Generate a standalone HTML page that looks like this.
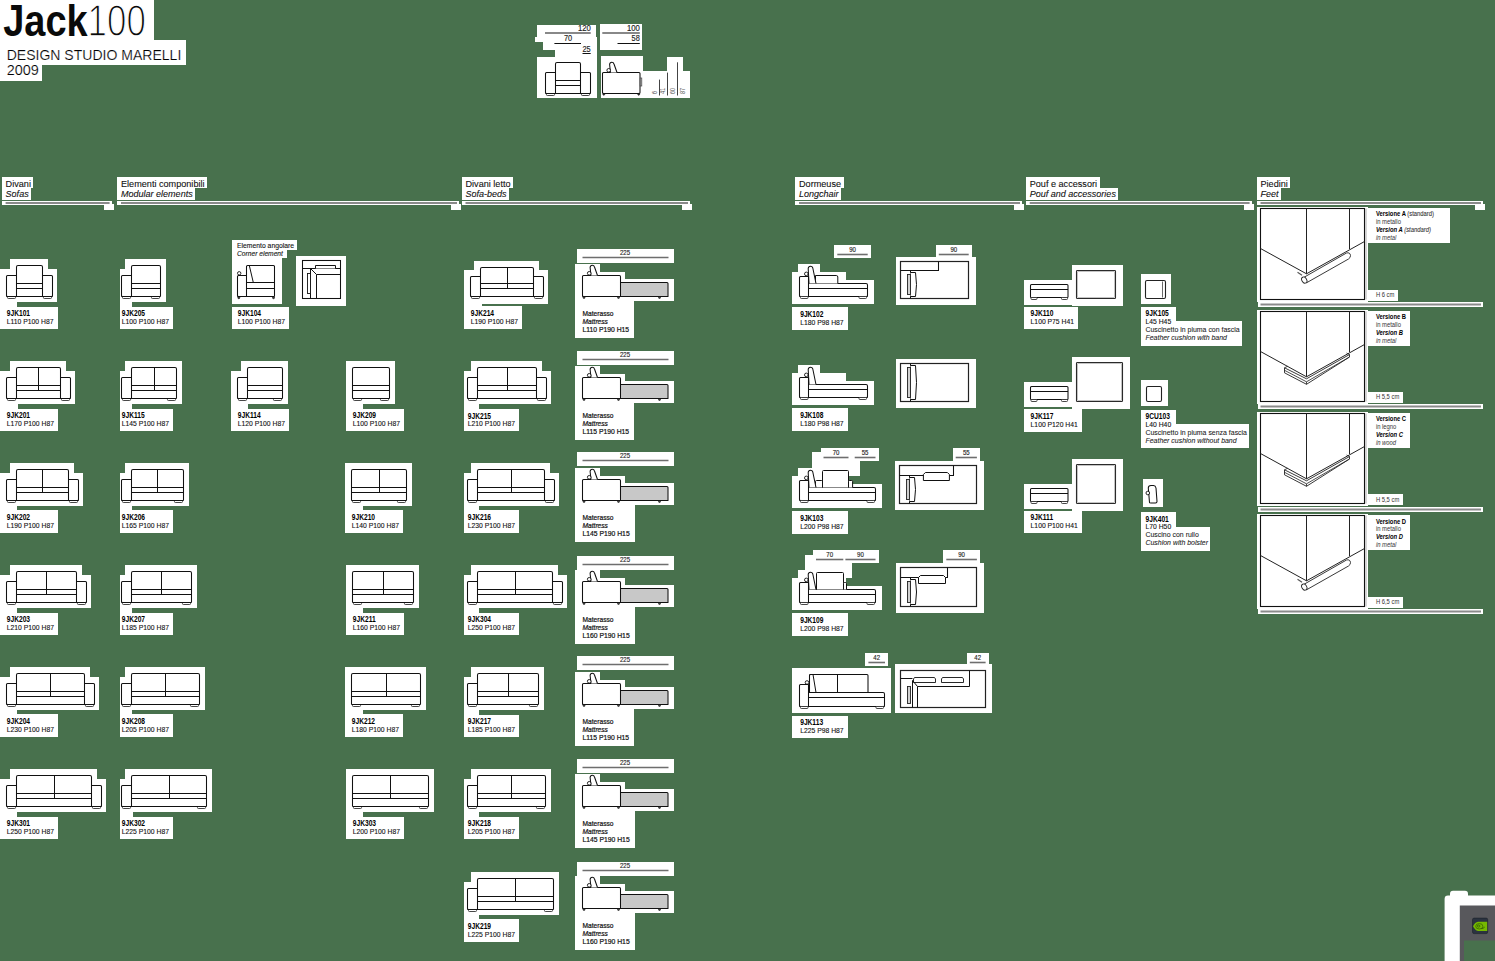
<!DOCTYPE html>
<html><head><meta charset="utf-8"><title>Jack100</title>
<style>
html,body{margin:0;padding:0;background:#48714d;width:1495px;height:961px;overflow:hidden;}
svg{position:absolute;left:0;top:0;display:block;}
text{font-family:"Liberation Sans",sans-serif;}
</style></head><body>
<svg width="1495" height="961" viewBox="0 0 1495 961">
<g shape-rendering="crispEdges"><rect x="0.00" y="0.00" width="154.00" height="41.00" fill="#fff"/><rect x="0.00" y="40.00" width="186.00" height="25.00" fill="#fff"/><rect x="0.00" y="64.00" width="42.00" height="17.00" fill="#fff"/><rect x="537.00" y="25.00" width="59.00" height="12.00" fill="#fff"/><rect x="535.00" y="37.00" width="58.00" height="5.00" fill="#fff"/><rect x="543.00" y="37.00" width="54.00" height="13.00" fill="#fff"/><rect x="555.00" y="45.00" width="42.00" height="13.00" fill="#fff"/><rect x="537.00" y="57.00" width="60.00" height="41.00" fill="#fff"/><rect x="600.00" y="24.00" width="42.00" height="26.00" fill="#fff"/><rect x="617.00" y="44.00" width="25.00" height="6.00" fill="#fff"/><rect x="601.00" y="56.00" width="42.00" height="42.00" fill="#fff"/><rect x="643.00" y="71.00" width="47.00" height="27.00" fill="#fff"/><rect x="667.00" y="57.00" width="16.00" height="15.00" fill="#fff"/><rect x="1.60" y="177.00" width="31.81" height="11.00" fill="#fff"/><rect x="1.60" y="188.00" width="29.56" height="11.50" fill="#fff"/><rect x="1.60" y="201.00" width="110.00" height="4.00" fill="#fff"/><rect x="103.60" y="204.00" width="10.00" height="6.00" fill="#fff"/><rect x="117.00" y="177.00" width="90.03" height="11.00" fill="#fff"/><rect x="117.00" y="188.00" width="78.16" height="11.50" fill="#fff"/><rect x="117.00" y="201.00" width="342.00" height="4.00" fill="#fff"/><rect x="451.00" y="204.00" width="10.00" height="6.00" fill="#fff"/><rect x="461.50" y="177.00" width="51.56" height="11.00" fill="#fff"/><rect x="461.50" y="188.00" width="47.60" height="11.50" fill="#fff"/><rect x="461.50" y="201.00" width="228.50" height="4.00" fill="#fff"/><rect x="682.00" y="204.00" width="10.00" height="6.00" fill="#fff"/><rect x="795.00" y="177.00" width="48.51" height="11.00" fill="#fff"/><rect x="795.00" y="188.00" width="46.10" height="11.50" fill="#fff"/><rect x="795.00" y="201.00" width="227.00" height="4.00" fill="#fff"/><rect x="1014.00" y="204.00" width="10.00" height="6.00" fill="#fff"/><rect x="1025.70" y="177.00" width="73.83" height="11.00" fill="#fff"/><rect x="1025.70" y="188.00" width="92.70" height="11.50" fill="#fff"/><rect x="1025.70" y="201.00" width="225.90" height="4.00" fill="#fff"/><rect x="1243.60" y="204.00" width="10.00" height="6.00" fill="#fff"/><rect x="1256.50" y="177.00" width="33.84" height="11.00" fill="#fff"/><rect x="1256.50" y="188.00" width="24.54" height="11.50" fill="#fff"/><rect x="1256.50" y="201.00" width="226.50" height="4.00" fill="#fff"/><rect x="1475.00" y="204.00" width="10.00" height="6.00" fill="#fff"/><rect x="9.50" y="258.80" width="38.00" height="43.00" fill="#fff"/><rect x="-0.10" y="268.50" width="56.60" height="33.30" fill="#fff"/><rect x="-0.10" y="299.30" width="17.50" height="9.00" fill="#fff"/><rect x="-0.20" y="306.60" width="58.16" height="22.40" fill="#fff"/><rect x="9.50" y="360.90" width="56.00" height="43.00" fill="#fff"/><rect x="0.10" y="370.50" width="75.10" height="33.40" fill="#fff"/><rect x="0.10" y="401.40" width="17.50" height="9.00" fill="#fff"/><rect x="-0.20" y="408.70" width="58.67" height="22.40" fill="#fff"/><rect x="9.50" y="462.50" width="64.00" height="43.00" fill="#fff"/><rect x="-0.10" y="472.50" width="83.40" height="33.00" fill="#fff"/><rect x="-0.10" y="503.00" width="17.50" height="9.00" fill="#fff"/><rect x="-0.20" y="510.30" width="58.67" height="22.40" fill="#fff"/><rect x="9.50" y="564.70" width="72.00" height="43.00" fill="#fff"/><rect x="-0.10" y="574.50" width="91.10" height="33.20" fill="#fff"/><rect x="-0.10" y="605.20" width="17.50" height="9.00" fill="#fff"/><rect x="-0.20" y="612.50" width="58.67" height="22.40" fill="#fff"/><rect x="9.50" y="666.50" width="80.00" height="43.00" fill="#fff"/><rect x="-0.10" y="676.50" width="98.60" height="33.00" fill="#fff"/><rect x="-0.10" y="707.00" width="17.50" height="9.00" fill="#fff"/><rect x="-0.20" y="714.30" width="58.67" height="22.40" fill="#fff"/><rect x="9.50" y="769.00" width="87.00" height="43.00" fill="#fff"/><rect x="-0.10" y="778.50" width="105.60" height="33.50" fill="#fff"/><rect x="-0.10" y="809.50" width="17.50" height="9.00" fill="#fff"/><rect x="-0.20" y="816.80" width="58.67" height="22.40" fill="#fff"/><rect x="124.50" y="258.80" width="41.00" height="43.00" fill="#fff"/><rect x="120.00" y="268.50" width="44.90" height="33.30" fill="#fff"/><rect x="120.00" y="299.30" width="12.30" height="9.00" fill="#fff"/><rect x="120.00" y="306.60" width="53.47" height="22.40" fill="#fff"/><rect x="124.50" y="360.90" width="57.00" height="43.00" fill="#fff"/><rect x="120.00" y="370.50" width="61.20" height="33.40" fill="#fff"/><rect x="120.00" y="401.40" width="12.30" height="9.00" fill="#fff"/><rect x="120.00" y="408.70" width="53.47" height="22.40" fill="#fff"/><rect x="124.50" y="462.50" width="64.00" height="43.00" fill="#fff"/><rect x="120.00" y="472.50" width="68.30" height="33.00" fill="#fff"/><rect x="120.00" y="503.00" width="12.30" height="9.00" fill="#fff"/><rect x="120.00" y="510.30" width="53.47" height="22.40" fill="#fff"/><rect x="124.50" y="564.70" width="72.00" height="43.00" fill="#fff"/><rect x="120.00" y="574.50" width="76.10" height="33.20" fill="#fff"/><rect x="120.00" y="605.20" width="12.30" height="9.00" fill="#fff"/><rect x="120.00" y="612.50" width="53.47" height="22.40" fill="#fff"/><rect x="124.50" y="666.50" width="80.00" height="43.00" fill="#fff"/><rect x="120.00" y="676.50" width="84.10" height="33.00" fill="#fff"/><rect x="120.00" y="707.00" width="12.30" height="9.00" fill="#fff"/><rect x="120.00" y="714.30" width="53.47" height="22.40" fill="#fff"/><rect x="124.50" y="769.00" width="87.00" height="43.00" fill="#fff"/><rect x="120.00" y="778.50" width="91.30" height="33.50" fill="#fff"/><rect x="120.00" y="809.50" width="12.70" height="9.00" fill="#fff"/><rect x="120.00" y="816.80" width="53.47" height="22.40" fill="#fff"/><rect x="240.50" y="360.90" width="47.00" height="43.00" fill="#fff"/><rect x="230.50" y="370.50" width="56.70" height="33.40" fill="#fff"/><rect x="230.50" y="401.40" width="17.50" height="9.00" fill="#fff"/><rect x="230.80" y="408.70" width="58.67" height="22.40" fill="#fff"/><rect x="345.50" y="360.90" width="49.00" height="43.00" fill="#fff"/><rect x="345.50" y="370.50" width="48.80" height="33.40" fill="#fff"/><rect x="345.50" y="401.40" width="17.50" height="9.00" fill="#fff"/><rect x="345.80" y="408.70" width="58.67" height="22.40" fill="#fff"/><rect x="344.50" y="462.50" width="67.00" height="43.00" fill="#fff"/><rect x="345.30" y="472.50" width="65.20" height="33.00" fill="#fff"/><rect x="345.30" y="503.00" width="17.50" height="9.00" fill="#fff"/><rect x="344.80" y="510.30" width="58.67" height="22.40" fill="#fff"/><rect x="345.50" y="564.70" width="73.00" height="43.00" fill="#fff"/><rect x="345.50" y="574.50" width="72.20" height="33.20" fill="#fff"/><rect x="345.50" y="605.20" width="17.50" height="9.00" fill="#fff"/><rect x="345.80" y="612.50" width="58.67" height="22.40" fill="#fff"/><rect x="344.50" y="666.50" width="81.00" height="43.00" fill="#fff"/><rect x="345.30" y="676.50" width="80.10" height="33.00" fill="#fff"/><rect x="345.30" y="707.00" width="17.50" height="9.00" fill="#fff"/><rect x="344.80" y="714.30" width="58.67" height="22.40" fill="#fff"/><rect x="345.50" y="769.00" width="88.00" height="43.00" fill="#fff"/><rect x="345.50" y="778.50" width="87.30" height="33.50" fill="#fff"/><rect x="345.50" y="809.50" width="17.50" height="9.00" fill="#fff"/><rect x="345.80" y="816.80" width="58.67" height="22.40" fill="#fff"/><rect x="232.00" y="240.00" width="64.58" height="10.00" fill="#fff"/><rect x="232.00" y="249.00" width="54.93" height="9.00" fill="#fff"/><rect x="232.00" y="258.00" width="50.00" height="46.00" fill="#fff"/><rect x="232.00" y="306.70" width="57.47" height="22.40" fill="#fff"/><rect x="296.00" y="256.00" width="50.00" height="50.00" fill="#fff"/><rect x="473.50" y="260.80" width="65.00" height="43.00" fill="#fff"/><rect x="464.10" y="269.50" width="83.40" height="34.30" fill="#fff"/><rect x="464.10" y="301.30" width="17.50" height="9.00" fill="#fff"/><rect x="464.00" y="306.10" width="58.47" height="22.40" fill="#fff"/><rect x="577.00" y="248.50" width="97.00" height="14.00" fill="#fff"/><rect x="575.00" y="263.50" width="25.00" height="12.00" fill="#fff"/><rect x="575.00" y="271.50" width="50.00" height="29.00" fill="#fff"/><rect x="618.00" y="278.50" width="56.00" height="22.00" fill="#fff"/><rect x="575.00" y="300.50" width="59.16" height="37.50" fill="#fff"/><rect x="470.50" y="361.20" width="71.00" height="43.00" fill="#fff"/><rect x="464.00" y="370.50" width="87.10" height="33.70" fill="#fff"/><rect x="464.00" y="401.70" width="14.50" height="9.00" fill="#fff"/><rect x="464.00" y="409.00" width="55.47" height="22.40" fill="#fff"/><rect x="577.00" y="350.50" width="97.00" height="14.00" fill="#fff"/><rect x="575.00" y="365.50" width="25.00" height="12.00" fill="#fff"/><rect x="575.00" y="373.50" width="50.00" height="29.00" fill="#fff"/><rect x="618.00" y="380.50" width="56.00" height="22.00" fill="#fff"/><rect x="575.00" y="402.50" width="59.16" height="37.50" fill="#fff"/><rect x="470.50" y="462.50" width="79.00" height="43.00" fill="#fff"/><rect x="464.00" y="472.50" width="95.00" height="33.00" fill="#fff"/><rect x="464.00" y="503.00" width="14.50" height="9.00" fill="#fff"/><rect x="464.00" y="510.30" width="55.47" height="22.40" fill="#fff"/><rect x="577.00" y="451.50" width="97.00" height="14.00" fill="#fff"/><rect x="575.00" y="467.50" width="25.00" height="12.00" fill="#fff"/><rect x="575.00" y="475.50" width="50.00" height="29.00" fill="#fff"/><rect x="618.00" y="482.50" width="56.00" height="22.00" fill="#fff"/><rect x="575.00" y="504.50" width="59.67" height="37.50" fill="#fff"/><rect x="470.50" y="564.70" width="87.00" height="43.00" fill="#fff"/><rect x="464.00" y="574.50" width="102.70" height="33.20" fill="#fff"/><rect x="464.00" y="605.20" width="14.50" height="9.00" fill="#fff"/><rect x="464.00" y="612.50" width="55.47" height="22.40" fill="#fff"/><rect x="577.00" y="555.50" width="97.00" height="14.00" fill="#fff"/><rect x="575.00" y="569.50" width="25.00" height="12.00" fill="#fff"/><rect x="575.00" y="577.50" width="50.00" height="29.00" fill="#fff"/><rect x="618.00" y="584.50" width="56.00" height="22.00" fill="#fff"/><rect x="575.00" y="606.50" width="59.67" height="37.50" fill="#fff"/><rect x="470.50" y="666.70" width="73.00" height="43.00" fill="#fff"/><rect x="464.00" y="676.50" width="78.80" height="33.20" fill="#fff"/><rect x="464.00" y="707.20" width="14.50" height="9.00" fill="#fff"/><rect x="464.00" y="714.50" width="55.47" height="22.40" fill="#fff"/><rect x="577.00" y="655.50" width="97.00" height="14.00" fill="#fff"/><rect x="575.00" y="671.50" width="25.00" height="12.00" fill="#fff"/><rect x="575.00" y="679.50" width="50.00" height="29.00" fill="#fff"/><rect x="618.00" y="686.50" width="56.00" height="22.00" fill="#fff"/><rect x="575.00" y="708.50" width="59.16" height="37.50" fill="#fff"/><rect x="470.50" y="769.10" width="80.00" height="43.00" fill="#fff"/><rect x="464.00" y="778.50" width="85.50" height="33.60" fill="#fff"/><rect x="464.00" y="809.60" width="14.60" height="9.00" fill="#fff"/><rect x="464.00" y="816.90" width="55.47" height="22.40" fill="#fff"/><rect x="577.00" y="758.50" width="97.00" height="14.00" fill="#fff"/><rect x="575.00" y="773.50" width="25.00" height="12.00" fill="#fff"/><rect x="575.00" y="781.50" width="50.00" height="29.00" fill="#fff"/><rect x="618.00" y="788.50" width="56.00" height="22.00" fill="#fff"/><rect x="575.00" y="810.50" width="59.67" height="37.50" fill="#fff"/><rect x="470.50" y="871.50" width="88.00" height="43.00" fill="#fff"/><rect x="464.00" y="881.50" width="93.90" height="33.00" fill="#fff"/><rect x="464.00" y="912.00" width="14.60" height="9.00" fill="#fff"/><rect x="464.00" y="919.30" width="55.47" height="22.40" fill="#fff"/><rect x="577.00" y="861.50" width="97.00" height="14.00" fill="#fff"/><rect x="575.00" y="875.50" width="25.00" height="12.00" fill="#fff"/><rect x="575.00" y="883.50" width="50.00" height="29.00" fill="#fff"/><rect x="618.00" y="890.50" width="56.00" height="22.00" fill="#fff"/><rect x="575.00" y="912.50" width="59.67" height="37.50" fill="#fff"/><rect x="798.00" y="263.50" width="22.00" height="20.00" fill="#fff"/><rect x="792.00" y="271.50" width="54.00" height="12.00" fill="#fff"/><rect x="792.00" y="279.50" width="81.50" height="24.00" fill="#fff"/><rect x="792.00" y="307.30" width="56.09" height="22.40" fill="#fff"/><rect x="834.30" y="244.50" width="36.40" height="13.00" fill="#fff"/><rect x="895.50" y="256.50" width="80.00" height="48.00" fill="#fff"/><rect x="935.80" y="244.50" width="35.90" height="13.00" fill="#fff"/><rect x="798.00" y="364.50" width="22.00" height="20.00" fill="#fff"/><rect x="792.00" y="372.50" width="54.00" height="12.00" fill="#fff"/><rect x="792.00" y="380.50" width="81.50" height="24.00" fill="#fff"/><rect x="792.00" y="408.30" width="56.09" height="22.40" fill="#fff"/><rect x="895.50" y="358.50" width="80.00" height="49.00" fill="#fff"/><rect x="812.00" y="452.00" width="48.00" height="24.00" fill="#fff"/><rect x="798.00" y="467.50" width="22.00" height="20.00" fill="#fff"/><rect x="792.00" y="475.50" width="54.00" height="12.00" fill="#fff"/><rect x="792.00" y="483.50" width="89.50" height="24.00" fill="#fff"/><rect x="792.00" y="511.30" width="56.09" height="22.40" fill="#fff"/><rect x="820.50" y="447.50" width="31.00" height="13.00" fill="#fff"/><rect x="851.70" y="447.50" width="26.80" height="13.00" fill="#fff"/><rect x="894.50" y="460.50" width="89.00" height="49.00" fill="#fff"/><rect x="952.70" y="447.50" width="27.20" height="13.00" fill="#fff"/><rect x="805.00" y="555.00" width="47.00" height="23.00" fill="#fff"/><rect x="798.00" y="569.50" width="22.00" height="20.00" fill="#fff"/><rect x="792.00" y="577.50" width="54.00" height="12.00" fill="#fff"/><rect x="792.00" y="585.50" width="89.50" height="24.00" fill="#fff"/><rect x="792.00" y="613.30" width="56.09" height="22.40" fill="#fff"/><rect x="813.00" y="549.50" width="33.30" height="13.00" fill="#fff"/><rect x="842.40" y="549.50" width="36.10" height="13.00" fill="#fff"/><rect x="895.50" y="562.50" width="88.00" height="50.00" fill="#fff"/><rect x="943.30" y="549.50" width="36.60" height="13.00" fill="#fff"/><rect x="792.00" y="668.00" width="99.00" height="45.00" fill="#fff"/><rect x="792.00" y="715.50" width="56.09" height="22.40" fill="#fff"/><rect x="865.40" y="652.50" width="22.60" height="13.00" fill="#fff"/><rect x="895.00" y="664.00" width="97.00" height="49.00" fill="#fff"/><rect x="966.80" y="652.50" width="21.80" height="13.00" fill="#fff"/><rect x="1024.00" y="279.50" width="50.00" height="25.00" fill="#fff"/><rect x="1071.50" y="264.50" width="51.00" height="41.00" fill="#fff"/><rect x="1024.00" y="306.90" width="54.49" height="22.40" fill="#fff"/><rect x="1024.00" y="381.50" width="50.00" height="25.00" fill="#fff"/><rect x="1071.50" y="356.50" width="58.00" height="52.00" fill="#fff"/><rect x="1024.00" y="409.10" width="58.27" height="22.40" fill="#fff"/><rect x="1024.00" y="483.50" width="50.00" height="25.00" fill="#fff"/><rect x="1071.50" y="458.50" width="51.00" height="52.00" fill="#fff"/><rect x="1024.00" y="510.70" width="58.27" height="22.40" fill="#fff"/><rect x="1141.00" y="274.00" width="30.00" height="30.00" fill="#fff"/><rect x="1141.00" y="306.90" width="34.66" height="19.50" fill="#fff"/><rect x="1141.00" y="321.40" width="100.65" height="24.20" fill="#fff"/><rect x="1141.00" y="380.00" width="27.00" height="26.00" fill="#fff"/><rect x="1141.00" y="409.50" width="34.66" height="19.50" fill="#fff"/><rect x="1141.00" y="424.00" width="107.98" height="24.20" fill="#fff"/><rect x="1143.00" y="479.00" width="20.00" height="28.00" fill="#fff"/><rect x="1141.00" y="512.00" width="34.66" height="19.50" fill="#fff"/><rect x="1141.00" y="526.50" width="69.01" height="24.20" fill="#fff"/><rect x="1257.00" y="206.50" width="110.50" height="95.00" fill="#fff"/><rect x="1368.00" y="207.50" width="82.00" height="35.10" fill="#fff"/><rect x="1368.00" y="289.50" width="30.40" height="11.00" fill="#fff"/><rect x="1258.00" y="302.00" width="225.00" height="5.00" fill="#fff"/><rect x="1257.00" y="309.50" width="110.50" height="94.00" fill="#fff"/><rect x="1368.00" y="310.50" width="42.09" height="35.40" fill="#fff"/><rect x="1368.00" y="391.50" width="35.27" height="11.00" fill="#fff"/><rect x="1258.00" y="404.00" width="225.00" height="5.00" fill="#fff"/><rect x="1257.00" y="411.50" width="110.50" height="94.00" fill="#fff"/><rect x="1368.00" y="412.50" width="42.09" height="35.20" fill="#fff"/><rect x="1368.00" y="494.00" width="35.27" height="10.50" fill="#fff"/><rect x="1258.00" y="507.00" width="225.00" height="5.00" fill="#fff"/><rect x="1257.00" y="513.50" width="110.50" height="95.00" fill="#fff"/><rect x="1368.00" y="514.50" width="42.09" height="35.50" fill="#fff"/><rect x="1368.00" y="596.50" width="35.27" height="11.00" fill="#fff"/><rect x="1258.00" y="609.00" width="225.00" height="5.00" fill="#fff"/></g>
<g><text x="3.30" y="35.90" font-size="44" font-weight="bold" font-style="normal" fill="#0a0a0a" textLength="84.28" lengthAdjust="spacingAndGlyphs">Jack</text><text x="87.6" y="35.9" font-size="44" fill="#0a0a0a" stroke="#fff" stroke-width="1.4" textLength="58.22" lengthAdjust="spacingAndGlyphs">100</text><text x="6.7" y="59.5" font-size="15.2" fill="#000" stroke="#fff" stroke-width="0.2" textLength="174.6" lengthAdjust="spacingAndGlyphs">DESIGN STUDIO MARELLI</text><text x="6.7" y="75.2" font-size="15.2" fill="#000" stroke="#fff" stroke-width="0.2" textLength="32.1" lengthAdjust="spacingAndGlyphs">2009</text><line x1="545.00" y1="33.00" x2="590.70" y2="33.00" stroke="#888" stroke-width="1.8"/><text x="577.99" y="30.80" font-size="8.6" font-weight="normal" font-style="normal" fill="#222" stroke="#222" stroke-width="0.15" textLength="12.91" lengthAdjust="spacingAndGlyphs">120</text><text x="563.89" y="41.00" font-size="8.4" font-weight="normal" font-style="normal" fill="#222" stroke="#222" stroke-width="0.15" textLength="8.22" lengthAdjust="spacingAndGlyphs">70</text><line x1="554.40" y1="43.50" x2="581.00" y2="43.50" stroke="#111" stroke-width="1.0"/><text x="582.48" y="51.80" font-size="8.4" font-weight="normal" font-style="normal" fill="#222" stroke="#222" stroke-width="0.15" textLength="8.22" lengthAdjust="spacingAndGlyphs">25</text><line x1="582.50" y1="53.50" x2="590.70" y2="53.50" stroke="#111" stroke-width="1.0"/><rect x="546.50" y="93.50" width="8.00" height="2.00" rx="0.8" fill="#fff" stroke="#333" stroke-width="0.9"/><rect x="581.50" y="93.50" width="8.00" height="2.00" rx="0.8" fill="#fff" stroke="#333" stroke-width="0.9"/><path d="M555.5,72.5 L546.5,72.5 Q545.5,72.5 545.5,73.5 L545.5,92.5 Q545.5,93.5 546.5,93.5 L555.5,93.5" fill="#fff" stroke="#111" stroke-width="1.05" stroke-linejoin="round" /><path d="M580.5,72.5 L589.5,72.5 Q590.5,72.5 590.5,73.5 L590.5,92.5 Q590.5,93.5 589.5,93.5 L580.5,93.5" fill="#fff" stroke="#111" stroke-width="1.05" stroke-linejoin="round" /><path d="M555.5,93.5 L555.5,64.0 Q555.5,62.5 557.0,62.5 L579.0,62.5 Q580.5,62.5 580.5,64.0 L580.5,93.5" fill="#fff" stroke="#111" stroke-width="1.05" stroke-linejoin="round" /><line x1="555.50" y1="80.50" x2="580.50" y2="80.50" stroke="#111" stroke-width="1.0"/><line x1="555.50" y1="85.50" x2="580.50" y2="85.50" stroke="#111" stroke-width="1.05"/><line x1="545.50" y1="93.50" x2="590.50" y2="93.50" stroke="#111" stroke-width="1.1"/><line x1="602.30" y1="33.00" x2="639.80" y2="33.00" stroke="#888" stroke-width="1.8"/><text x="626.89" y="30.80" font-size="8.6" font-weight="normal" font-style="normal" fill="#222" stroke="#222" stroke-width="0.15" textLength="12.91" lengthAdjust="spacingAndGlyphs">100</text><text x="631.58" y="41.00" font-size="8.4" font-weight="normal" font-style="normal" fill="#222" stroke="#222" stroke-width="0.15" textLength="8.22" lengthAdjust="spacingAndGlyphs">58</text><line x1="617.50" y1="43.50" x2="639.80" y2="43.50" stroke="#111" stroke-width="1.0"/><path d="M602.5,73.5 Q602.5,72.5 603.5,72.5 L639,72.5 Q640,72.5 640,73.5 L640,92.5 Q640,93.5 639,93.5 L603.5,93.5 Q602.5,93.5 602.5,92.5 Z" fill="#fff" stroke="#111" stroke-width="1.05" stroke-linejoin="round" /><path d="M610.5,72.5 L609.6,64.5 Q609.8,62.3 611.8,62.3 Q613.5,62.3 614,64 L617,72.5" fill="#fff" stroke="#111" stroke-width="1.05" stroke-linejoin="round" /><circle cx="608.70" cy="70.30" r="1.8" fill="#fff" stroke="#111" stroke-width="0.9"/><rect x="640.20" y="78.00" width="1.60" height="8.00" rx="0.0" fill="#bbb" stroke="#444" stroke-width="0.7"/><circle cx="603.80" cy="94.30" r="0.9" fill="#333" stroke="#111" stroke-width="0.7"/><circle cx="638.70" cy="94.30" r="0.9" fill="#333" stroke="#111" stroke-width="0.7"/><line x1="659.50" y1="79.60" x2="659.50" y2="95.50" stroke="#444" stroke-width="1.0"/><line x1="667.50" y1="72.60" x2="667.50" y2="95.50" stroke="#444" stroke-width="1.0"/><line x1="677.50" y1="62.30" x2="677.50" y2="95.50" stroke="#444" stroke-width="1.0"/><text x="0" y="0" font-size="6.5" fill="#555" transform="translate(656.5,94) rotate(-90)" textLength="3.07" lengthAdjust="spacingAndGlyphs">6</text><text x="0" y="0" font-size="6.5" fill="#555" transform="translate(665.3,94) rotate(-90)" textLength="6.15" lengthAdjust="spacingAndGlyphs">41</text><text x="0" y="0" font-size="6.5" fill="#555" transform="translate(674.8,94) rotate(-90)" textLength="6.15" lengthAdjust="spacingAndGlyphs">60</text><text x="0" y="0" font-size="6.5" fill="#555" transform="translate(684.5,94) rotate(-90)" textLength="6.15" lengthAdjust="spacingAndGlyphs">87</text><text x="5.60" y="186.50" font-size="9.2" font-weight="normal" font-style="normal" fill="#111" stroke="#111" stroke-width="0.1" textLength="25.31" lengthAdjust="spacingAndGlyphs">Divani</text><text x="5.60" y="196.50" font-size="9.2" font-weight="normal" font-style="italic" fill="#111" stroke="#111" stroke-width="0.1" textLength="23.06" lengthAdjust="spacingAndGlyphs">Sofas</text><line x1="5.60" y1="203.00" x2="109.60" y2="203.00" stroke="#8a8a8a" stroke-width="2.0"/><text x="121.00" y="186.50" font-size="9.2" font-weight="normal" font-style="normal" fill="#111" stroke="#111" stroke-width="0.1" textLength="83.53" lengthAdjust="spacingAndGlyphs">Elementi componibili</text><text x="121.00" y="196.50" font-size="9.2" font-weight="normal" font-style="italic" fill="#111" stroke="#111" stroke-width="0.1" textLength="71.66" lengthAdjust="spacingAndGlyphs">Modular elements</text><line x1="121.00" y1="203.00" x2="457.00" y2="203.00" stroke="#8a8a8a" stroke-width="2.0"/><text x="465.50" y="186.50" font-size="9.2" font-weight="normal" font-style="normal" fill="#111" stroke="#111" stroke-width="0.1" textLength="45.06" lengthAdjust="spacingAndGlyphs">Divani letto</text><text x="465.50" y="196.50" font-size="9.2" font-weight="normal" font-style="italic" fill="#111" stroke="#111" stroke-width="0.1" textLength="41.10" lengthAdjust="spacingAndGlyphs">Sofa-beds</text><line x1="465.50" y1="203.00" x2="688.00" y2="203.00" stroke="#8a8a8a" stroke-width="2.0"/><text x="799.00" y="186.50" font-size="9.2" font-weight="normal" font-style="normal" fill="#111" stroke="#111" stroke-width="0.1" textLength="42.01" lengthAdjust="spacingAndGlyphs">Dormeuse</text><text x="799.00" y="196.50" font-size="9.2" font-weight="normal" font-style="italic" fill="#111" stroke="#111" stroke-width="0.1" textLength="39.60" lengthAdjust="spacingAndGlyphs">Longchair</text><line x1="799.00" y1="203.00" x2="1020.00" y2="203.00" stroke="#8a8a8a" stroke-width="2.0"/><text x="1029.70" y="186.50" font-size="9.2" font-weight="normal" font-style="normal" fill="#111" stroke="#111" stroke-width="0.1" textLength="67.33" lengthAdjust="spacingAndGlyphs">Pouf e accessori</text><text x="1029.70" y="196.50" font-size="9.2" font-weight="normal" font-style="italic" fill="#111" stroke="#111" stroke-width="0.1" textLength="86.20" lengthAdjust="spacingAndGlyphs">Pouf and accessories</text><line x1="1029.70" y1="203.00" x2="1249.60" y2="203.00" stroke="#8a8a8a" stroke-width="2.0"/><text x="1260.50" y="186.50" font-size="9.2" font-weight="normal" font-style="normal" fill="#111" stroke="#111" stroke-width="0.1" textLength="27.34" lengthAdjust="spacingAndGlyphs">Piedini</text><text x="1260.50" y="196.50" font-size="9.2" font-weight="normal" font-style="italic" fill="#111" stroke="#111" stroke-width="0.1" textLength="18.04" lengthAdjust="spacingAndGlyphs">Feet</text><line x1="1260.50" y1="203.00" x2="1481.00" y2="203.00" stroke="#8a8a8a" stroke-width="2.0"/><rect x="7.50" y="296.50" width="8.00" height="2.00" rx="0.8" fill="#fff" stroke="#333" stroke-width="0.9"/><rect x="43.50" y="296.50" width="8.00" height="2.00" rx="0.8" fill="#fff" stroke="#333" stroke-width="0.9"/><path d="M16.5,275.5 L7.5,275.5 Q6.5,275.5 6.5,276.5 L6.5,295.5 Q6.5,296.5 7.5,296.5 L16.5,296.5" fill="#fff" stroke="#111" stroke-width="1.05" stroke-linejoin="round" /><path d="M42.5,275.5 L51.5,275.5 Q52.5,275.5 52.5,276.5 L52.5,295.5 Q52.5,296.5 51.5,296.5 L42.5,296.5" fill="#fff" stroke="#111" stroke-width="1.05" stroke-linejoin="round" /><path d="M16.5,296.5 L16.5,267.0 Q16.5,265.5 18.0,265.5 L41.0,265.5 Q42.5,265.5 42.5,267.0 L42.5,296.5" fill="#fff" stroke="#111" stroke-width="1.05" stroke-linejoin="round" /><line x1="16.50" y1="283.50" x2="42.50" y2="283.50" stroke="#111" stroke-width="1.0"/><line x1="16.50" y1="288.50" x2="42.50" y2="288.50" stroke="#111" stroke-width="1.05"/><line x1="6.50" y1="296.50" x2="52.50" y2="296.50" stroke="#111" stroke-width="1.1"/><text x="6.80" y="316.10" font-size="8.2" font-weight="bold" font-style="normal" fill="#000" textLength="23.27" lengthAdjust="spacingAndGlyphs">9JK101</text><text x="6.80" y="324.00" font-size="7.8" font-weight="normal" font-style="normal" fill="#111" stroke="#111" stroke-width="0.12" textLength="46.66" lengthAdjust="spacingAndGlyphs">L110 P100 H87</text><rect x="7.50" y="398.50" width="8.00" height="2.00" rx="0.8" fill="#fff" stroke="#333" stroke-width="0.9"/><rect x="61.50" y="398.50" width="8.00" height="2.00" rx="0.8" fill="#fff" stroke="#333" stroke-width="0.9"/><path d="M16.5,377.5 L7.5,377.5 Q6.5,377.5 6.5,378.5 L6.5,397.5 Q6.5,398.5 7.5,398.5 L16.5,398.5" fill="#fff" stroke="#111" stroke-width="1.05" stroke-linejoin="round" /><path d="M60.5,377.5 L69.5,377.5 Q70.5,377.5 70.5,378.5 L70.5,397.5 Q70.5,398.5 69.5,398.5 L60.5,398.5" fill="#fff" stroke="#111" stroke-width="1.05" stroke-linejoin="round" /><path d="M16.5,398.5 L16.5,369.0 Q16.5,367.5 18.0,367.5 L59.0,367.5 Q60.5,367.5 60.5,369.0 L60.5,398.5" fill="#fff" stroke="#111" stroke-width="1.05" stroke-linejoin="round" /><line x1="16.50" y1="385.50" x2="60.50" y2="385.50" stroke="#111" stroke-width="1.0"/><line x1="16.50" y1="390.50" x2="60.50" y2="390.50" stroke="#111" stroke-width="1.05"/><line x1="38.50" y1="367.50" x2="38.50" y2="390.50" stroke="#111" stroke-width="1.05"/><line x1="6.50" y1="398.50" x2="70.50" y2="398.50" stroke="#111" stroke-width="1.1"/><text x="6.80" y="418.20" font-size="8.2" font-weight="bold" font-style="normal" fill="#000" textLength="23.27" lengthAdjust="spacingAndGlyphs">9JK201</text><text x="6.80" y="426.10" font-size="7.8" font-weight="normal" font-style="normal" fill="#111" stroke="#111" stroke-width="0.12" textLength="47.17" lengthAdjust="spacingAndGlyphs">L170 P100 H87</text><rect x="7.50" y="500.50" width="8.00" height="2.00" rx="0.8" fill="#fff" stroke="#333" stroke-width="0.9"/><rect x="69.50" y="500.50" width="8.00" height="2.00" rx="0.8" fill="#fff" stroke="#333" stroke-width="0.9"/><path d="M16.5,479.5 L7.5,479.5 Q6.5,479.5 6.5,480.5 L6.5,499.5 Q6.5,500.5 7.5,500.5 L16.5,500.5" fill="#fff" stroke="#111" stroke-width="1.05" stroke-linejoin="round" /><path d="M68.5,479.5 L77.5,479.5 Q78.5,479.5 78.5,480.5 L78.5,499.5 Q78.5,500.5 77.5,500.5 L68.5,500.5" fill="#fff" stroke="#111" stroke-width="1.05" stroke-linejoin="round" /><path d="M16.5,500.5 L16.5,471.0 Q16.5,469.5 18.0,469.5 L67.0,469.5 Q68.5,469.5 68.5,471.0 L68.5,500.5" fill="#fff" stroke="#111" stroke-width="1.05" stroke-linejoin="round" /><line x1="16.50" y1="487.50" x2="68.50" y2="487.50" stroke="#111" stroke-width="1.0"/><line x1="16.50" y1="492.50" x2="68.50" y2="492.50" stroke="#111" stroke-width="1.05"/><line x1="42.50" y1="469.50" x2="42.50" y2="492.50" stroke="#111" stroke-width="1.05"/><line x1="6.50" y1="500.50" x2="78.50" y2="500.50" stroke="#111" stroke-width="1.1"/><text x="6.80" y="519.80" font-size="8.2" font-weight="bold" font-style="normal" fill="#000" textLength="23.27" lengthAdjust="spacingAndGlyphs">9JK202</text><text x="6.80" y="527.70" font-size="7.8" font-weight="normal" font-style="normal" fill="#111" stroke="#111" stroke-width="0.12" textLength="47.17" lengthAdjust="spacingAndGlyphs">L190 P100 H87</text><rect x="7.50" y="602.50" width="8.00" height="2.00" rx="0.8" fill="#fff" stroke="#333" stroke-width="0.9"/><rect x="77.50" y="602.50" width="8.00" height="2.00" rx="0.8" fill="#fff" stroke="#333" stroke-width="0.9"/><path d="M16.5,581.5 L7.5,581.5 Q6.5,581.5 6.5,582.5 L6.5,601.5 Q6.5,602.5 7.5,602.5 L16.5,602.5" fill="#fff" stroke="#111" stroke-width="1.05" stroke-linejoin="round" /><path d="M76.5,581.5 L85.5,581.5 Q86.5,581.5 86.5,582.5 L86.5,601.5 Q86.5,602.5 85.5,602.5 L76.5,602.5" fill="#fff" stroke="#111" stroke-width="1.05" stroke-linejoin="round" /><path d="M16.5,602.5 L16.5,573.0 Q16.5,571.5 18.0,571.5 L75.0,571.5 Q76.5,571.5 76.5,573.0 L76.5,602.5" fill="#fff" stroke="#111" stroke-width="1.05" stroke-linejoin="round" /><line x1="16.50" y1="589.50" x2="76.50" y2="589.50" stroke="#111" stroke-width="1.0"/><line x1="16.50" y1="594.50" x2="76.50" y2="594.50" stroke="#111" stroke-width="1.05"/><line x1="46.50" y1="571.50" x2="46.50" y2="594.50" stroke="#111" stroke-width="1.05"/><line x1="6.50" y1="602.50" x2="86.50" y2="602.50" stroke="#111" stroke-width="1.1"/><text x="6.80" y="622.00" font-size="8.2" font-weight="bold" font-style="normal" fill="#000" textLength="23.27" lengthAdjust="spacingAndGlyphs">9JK203</text><text x="6.80" y="629.90" font-size="7.8" font-weight="normal" font-style="normal" fill="#111" stroke="#111" stroke-width="0.12" textLength="47.17" lengthAdjust="spacingAndGlyphs">L210 P100 H87</text><rect x="7.50" y="704.50" width="8.00" height="2.00" rx="0.8" fill="#fff" stroke="#333" stroke-width="0.9"/><rect x="85.50" y="704.50" width="8.00" height="2.00" rx="0.8" fill="#fff" stroke="#333" stroke-width="0.9"/><path d="M16.5,683.5 L7.5,683.5 Q6.5,683.5 6.5,684.5 L6.5,703.5 Q6.5,704.5 7.5,704.5 L16.5,704.5" fill="#fff" stroke="#111" stroke-width="1.05" stroke-linejoin="round" /><path d="M84.5,683.5 L93.5,683.5 Q94.5,683.5 94.5,684.5 L94.5,703.5 Q94.5,704.5 93.5,704.5 L84.5,704.5" fill="#fff" stroke="#111" stroke-width="1.05" stroke-linejoin="round" /><path d="M16.5,704.5 L16.5,675.0 Q16.5,673.5 18.0,673.5 L83.0,673.5 Q84.5,673.5 84.5,675.0 L84.5,704.5" fill="#fff" stroke="#111" stroke-width="1.05" stroke-linejoin="round" /><line x1="16.50" y1="691.50" x2="84.50" y2="691.50" stroke="#111" stroke-width="1.0"/><line x1="16.50" y1="696.50" x2="84.50" y2="696.50" stroke="#111" stroke-width="1.05"/><line x1="50.50" y1="673.50" x2="50.50" y2="696.50" stroke="#111" stroke-width="1.05"/><line x1="6.50" y1="704.50" x2="94.50" y2="704.50" stroke="#111" stroke-width="1.1"/><text x="6.80" y="723.80" font-size="8.2" font-weight="bold" font-style="normal" fill="#000" textLength="23.27" lengthAdjust="spacingAndGlyphs">9JK204</text><text x="6.80" y="731.70" font-size="7.8" font-weight="normal" font-style="normal" fill="#111" stroke="#111" stroke-width="0.12" textLength="47.17" lengthAdjust="spacingAndGlyphs">L230 P100 H87</text><rect x="7.50" y="806.50" width="8.00" height="2.00" rx="0.8" fill="#fff" stroke="#333" stroke-width="0.9"/><rect x="92.50" y="806.50" width="8.00" height="2.00" rx="0.8" fill="#fff" stroke="#333" stroke-width="0.9"/><path d="M16.5,785.5 L7.5,785.5 Q6.5,785.5 6.5,786.5 L6.5,805.5 Q6.5,806.5 7.5,806.5 L16.5,806.5" fill="#fff" stroke="#111" stroke-width="1.05" stroke-linejoin="round" /><path d="M91.5,785.5 L100.5,785.5 Q101.5,785.5 101.5,786.5 L101.5,805.5 Q101.5,806.5 100.5,806.5 L91.5,806.5" fill="#fff" stroke="#111" stroke-width="1.05" stroke-linejoin="round" /><path d="M16.5,806.5 L16.5,777.0 Q16.5,775.5 18.0,775.5 L90.0,775.5 Q91.5,775.5 91.5,777.0 L91.5,806.5" fill="#fff" stroke="#111" stroke-width="1.05" stroke-linejoin="round" /><line x1="16.50" y1="793.50" x2="91.50" y2="793.50" stroke="#111" stroke-width="1.0"/><line x1="16.50" y1="798.50" x2="91.50" y2="798.50" stroke="#111" stroke-width="1.05"/><line x1="54.50" y1="775.50" x2="54.50" y2="798.50" stroke="#111" stroke-width="1.05"/><line x1="6.50" y1="806.50" x2="101.50" y2="806.50" stroke="#111" stroke-width="1.1"/><text x="6.80" y="826.30" font-size="8.2" font-weight="bold" font-style="normal" fill="#000" textLength="23.27" lengthAdjust="spacingAndGlyphs">9JK301</text><text x="6.80" y="834.20" font-size="7.8" font-weight="normal" font-style="normal" fill="#111" stroke="#111" stroke-width="0.12" textLength="47.17" lengthAdjust="spacingAndGlyphs">L250 P100 H87</text><rect x="122.50" y="296.50" width="8.00" height="2.00" rx="0.8" fill="#fff" stroke="#333" stroke-width="0.9"/><rect x="151.50" y="296.50" width="8.00" height="2.00" rx="0.8" fill="#fff" stroke="#333" stroke-width="0.9"/><path d="M131.5,275.5 L122.5,275.5 Q121.5,275.5 121.5,276.5 L121.5,295.5 Q121.5,296.5 122.5,296.5 L131.5,296.5" fill="#fff" stroke="#111" stroke-width="1.05" stroke-linejoin="round" /><path d="M131.5,296.5 L131.5,267.0 Q131.5,265.5 133.0,265.5 L159.0,265.5 Q160.5,265.5 160.5,267.0 L160.5,296.5" fill="#fff" stroke="#111" stroke-width="1.05" stroke-linejoin="round" /><line x1="131.50" y1="283.50" x2="160.50" y2="283.50" stroke="#111" stroke-width="1.0"/><line x1="131.50" y1="288.50" x2="160.50" y2="288.50" stroke="#111" stroke-width="1.05"/><line x1="121.50" y1="296.50" x2="160.50" y2="296.50" stroke="#111" stroke-width="1.1"/><text x="121.80" y="316.10" font-size="8.2" font-weight="bold" font-style="normal" fill="#000" textLength="23.27" lengthAdjust="spacingAndGlyphs">9JK205</text><text x="121.80" y="324.00" font-size="7.8" font-weight="normal" font-style="normal" fill="#111" stroke="#111" stroke-width="0.12" textLength="47.17" lengthAdjust="spacingAndGlyphs">L100 P100 H87</text><rect x="122.50" y="398.50" width="8.00" height="2.00" rx="0.8" fill="#fff" stroke="#333" stroke-width="0.9"/><rect x="167.50" y="398.50" width="8.00" height="2.00" rx="0.8" fill="#fff" stroke="#333" stroke-width="0.9"/><path d="M131.5,377.5 L122.5,377.5 Q121.5,377.5 121.5,378.5 L121.5,397.5 Q121.5,398.5 122.5,398.5 L131.5,398.5" fill="#fff" stroke="#111" stroke-width="1.05" stroke-linejoin="round" /><path d="M131.5,398.5 L131.5,369.0 Q131.5,367.5 133.0,367.5 L175.0,367.5 Q176.5,367.5 176.5,369.0 L176.5,398.5" fill="#fff" stroke="#111" stroke-width="1.05" stroke-linejoin="round" /><line x1="131.50" y1="385.50" x2="176.50" y2="385.50" stroke="#111" stroke-width="1.0"/><line x1="131.50" y1="390.50" x2="176.50" y2="390.50" stroke="#111" stroke-width="1.05"/><line x1="154.50" y1="367.50" x2="154.50" y2="390.50" stroke="#111" stroke-width="1.05"/><line x1="121.50" y1="398.50" x2="176.50" y2="398.50" stroke="#111" stroke-width="1.1"/><text x="121.80" y="418.20" font-size="8.2" font-weight="bold" font-style="normal" fill="#000" textLength="22.90" lengthAdjust="spacingAndGlyphs">9JK115</text><text x="121.80" y="426.10" font-size="7.8" font-weight="normal" font-style="normal" fill="#111" stroke="#111" stroke-width="0.12" textLength="47.17" lengthAdjust="spacingAndGlyphs">L145 P100 H87</text><rect x="122.50" y="500.50" width="8.00" height="2.00" rx="0.8" fill="#fff" stroke="#333" stroke-width="0.9"/><rect x="174.50" y="500.50" width="8.00" height="2.00" rx="0.8" fill="#fff" stroke="#333" stroke-width="0.9"/><path d="M131.5,479.5 L122.5,479.5 Q121.5,479.5 121.5,480.5 L121.5,499.5 Q121.5,500.5 122.5,500.5 L131.5,500.5" fill="#fff" stroke="#111" stroke-width="1.05" stroke-linejoin="round" /><path d="M131.5,500.5 L131.5,471.0 Q131.5,469.5 133.0,469.5 L182.0,469.5 Q183.5,469.5 183.5,471.0 L183.5,500.5" fill="#fff" stroke="#111" stroke-width="1.05" stroke-linejoin="round" /><line x1="131.50" y1="487.50" x2="183.50" y2="487.50" stroke="#111" stroke-width="1.0"/><line x1="131.50" y1="492.50" x2="183.50" y2="492.50" stroke="#111" stroke-width="1.05"/><line x1="157.50" y1="469.50" x2="157.50" y2="492.50" stroke="#111" stroke-width="1.05"/><line x1="121.50" y1="500.50" x2="183.50" y2="500.50" stroke="#111" stroke-width="1.1"/><text x="121.80" y="519.80" font-size="8.2" font-weight="bold" font-style="normal" fill="#000" textLength="23.27" lengthAdjust="spacingAndGlyphs">9JK206</text><text x="121.80" y="527.70" font-size="7.8" font-weight="normal" font-style="normal" fill="#111" stroke="#111" stroke-width="0.12" textLength="47.17" lengthAdjust="spacingAndGlyphs">L165 P100 H87</text><rect x="122.50" y="602.50" width="8.00" height="2.00" rx="0.8" fill="#fff" stroke="#333" stroke-width="0.9"/><rect x="182.50" y="602.50" width="8.00" height="2.00" rx="0.8" fill="#fff" stroke="#333" stroke-width="0.9"/><path d="M131.5,581.5 L122.5,581.5 Q121.5,581.5 121.5,582.5 L121.5,601.5 Q121.5,602.5 122.5,602.5 L131.5,602.5" fill="#fff" stroke="#111" stroke-width="1.05" stroke-linejoin="round" /><path d="M131.5,602.5 L131.5,573.0 Q131.5,571.5 133.0,571.5 L190.0,571.5 Q191.5,571.5 191.5,573.0 L191.5,602.5" fill="#fff" stroke="#111" stroke-width="1.05" stroke-linejoin="round" /><line x1="131.50" y1="589.50" x2="191.50" y2="589.50" stroke="#111" stroke-width="1.0"/><line x1="131.50" y1="594.50" x2="191.50" y2="594.50" stroke="#111" stroke-width="1.05"/><line x1="161.50" y1="571.50" x2="161.50" y2="594.50" stroke="#111" stroke-width="1.05"/><line x1="121.50" y1="602.50" x2="191.50" y2="602.50" stroke="#111" stroke-width="1.1"/><text x="121.80" y="622.00" font-size="8.2" font-weight="bold" font-style="normal" fill="#000" textLength="23.27" lengthAdjust="spacingAndGlyphs">9JK207</text><text x="121.80" y="629.90" font-size="7.8" font-weight="normal" font-style="normal" fill="#111" stroke="#111" stroke-width="0.12" textLength="47.17" lengthAdjust="spacingAndGlyphs">L185 P100 H87</text><rect x="122.50" y="704.50" width="8.00" height="2.00" rx="0.8" fill="#fff" stroke="#333" stroke-width="0.9"/><rect x="190.50" y="704.50" width="8.00" height="2.00" rx="0.8" fill="#fff" stroke="#333" stroke-width="0.9"/><path d="M131.5,683.5 L122.5,683.5 Q121.5,683.5 121.5,684.5 L121.5,703.5 Q121.5,704.5 122.5,704.5 L131.5,704.5" fill="#fff" stroke="#111" stroke-width="1.05" stroke-linejoin="round" /><path d="M131.5,704.5 L131.5,675.0 Q131.5,673.5 133.0,673.5 L198.0,673.5 Q199.5,673.5 199.5,675.0 L199.5,704.5" fill="#fff" stroke="#111" stroke-width="1.05" stroke-linejoin="round" /><line x1="131.50" y1="691.50" x2="199.50" y2="691.50" stroke="#111" stroke-width="1.0"/><line x1="131.50" y1="696.50" x2="199.50" y2="696.50" stroke="#111" stroke-width="1.05"/><line x1="165.50" y1="673.50" x2="165.50" y2="696.50" stroke="#111" stroke-width="1.05"/><line x1="121.50" y1="704.50" x2="199.50" y2="704.50" stroke="#111" stroke-width="1.1"/><text x="121.80" y="723.80" font-size="8.2" font-weight="bold" font-style="normal" fill="#000" textLength="23.27" lengthAdjust="spacingAndGlyphs">9JK208</text><text x="121.80" y="731.70" font-size="7.8" font-weight="normal" font-style="normal" fill="#111" stroke="#111" stroke-width="0.12" textLength="47.17" lengthAdjust="spacingAndGlyphs">L205 P100 H87</text><rect x="122.50" y="806.50" width="8.00" height="2.00" rx="0.8" fill="#fff" stroke="#333" stroke-width="0.9"/><rect x="197.50" y="806.50" width="8.00" height="2.00" rx="0.8" fill="#fff" stroke="#333" stroke-width="0.9"/><path d="M131.5,785.5 L122.5,785.5 Q121.5,785.5 121.5,786.5 L121.5,805.5 Q121.5,806.5 122.5,806.5 L131.5,806.5" fill="#fff" stroke="#111" stroke-width="1.05" stroke-linejoin="round" /><path d="M131.5,806.5 L131.5,777.0 Q131.5,775.5 133.0,775.5 L205.0,775.5 Q206.5,775.5 206.5,777.0 L206.5,806.5" fill="#fff" stroke="#111" stroke-width="1.05" stroke-linejoin="round" /><line x1="131.50" y1="793.50" x2="206.50" y2="793.50" stroke="#111" stroke-width="1.0"/><line x1="131.50" y1="798.50" x2="206.50" y2="798.50" stroke="#111" stroke-width="1.05"/><line x1="169.50" y1="775.50" x2="169.50" y2="798.50" stroke="#111" stroke-width="1.05"/><line x1="121.50" y1="806.50" x2="206.50" y2="806.50" stroke="#111" stroke-width="1.1"/><text x="121.80" y="826.30" font-size="8.2" font-weight="bold" font-style="normal" fill="#000" textLength="23.27" lengthAdjust="spacingAndGlyphs">9JK302</text><text x="121.80" y="834.20" font-size="7.8" font-weight="normal" font-style="normal" fill="#111" stroke="#111" stroke-width="0.12" textLength="47.17" lengthAdjust="spacingAndGlyphs">L225 P100 H87</text><rect x="238.50" y="398.50" width="8.00" height="2.00" rx="0.8" fill="#fff" stroke="#333" stroke-width="0.9"/><rect x="273.50" y="398.50" width="8.00" height="2.00" rx="0.8" fill="#fff" stroke="#333" stroke-width="0.9"/><path d="M247.5,377.5 L238.5,377.5 Q237.5,377.5 237.5,378.5 L237.5,397.5 Q237.5,398.5 238.5,398.5 L247.5,398.5" fill="#fff" stroke="#111" stroke-width="1.05" stroke-linejoin="round" /><path d="M247.5,398.5 L247.5,369.0 Q247.5,367.5 249.0,367.5 L281.0,367.5 Q282.5,367.5 282.5,369.0 L282.5,398.5" fill="#fff" stroke="#111" stroke-width="1.05" stroke-linejoin="round" /><line x1="247.50" y1="385.50" x2="282.50" y2="385.50" stroke="#111" stroke-width="1.0"/><line x1="247.50" y1="390.50" x2="282.50" y2="390.50" stroke="#111" stroke-width="1.05"/><line x1="237.50" y1="398.50" x2="282.50" y2="398.50" stroke="#111" stroke-width="1.1"/><text x="237.80" y="418.20" font-size="8.2" font-weight="bold" font-style="normal" fill="#000" textLength="22.90" lengthAdjust="spacingAndGlyphs">9JK114</text><text x="237.80" y="426.10" font-size="7.8" font-weight="normal" font-style="normal" fill="#111" stroke="#111" stroke-width="0.12" textLength="47.17" lengthAdjust="spacingAndGlyphs">L120 P100 H87</text><rect x="353.50" y="398.50" width="8.00" height="2.00" rx="0.8" fill="#fff" stroke="#333" stroke-width="0.9"/><rect x="380.50" y="398.50" width="8.00" height="2.00" rx="0.8" fill="#fff" stroke="#333" stroke-width="0.9"/><path d="M352.5,398.5 L352.5,369.0 Q352.5,367.5 354.0,367.5 L388.0,367.5 Q389.5,367.5 389.5,369.0 L389.5,398.5" fill="#fff" stroke="#111" stroke-width="1.05" stroke-linejoin="round" /><line x1="352.50" y1="385.50" x2="389.50" y2="385.50" stroke="#111" stroke-width="1.0"/><line x1="352.50" y1="390.50" x2="389.50" y2="390.50" stroke="#111" stroke-width="1.05"/><line x1="352.50" y1="398.50" x2="389.50" y2="398.50" stroke="#111" stroke-width="1.1"/><text x="352.80" y="418.20" font-size="8.2" font-weight="bold" font-style="normal" fill="#000" textLength="23.27" lengthAdjust="spacingAndGlyphs">9JK209</text><text x="352.80" y="426.10" font-size="7.8" font-weight="normal" font-style="normal" fill="#111" stroke="#111" stroke-width="0.12" textLength="47.17" lengthAdjust="spacingAndGlyphs">L100 P100 H87</text><rect x="352.50" y="500.50" width="8.00" height="2.00" rx="0.8" fill="#fff" stroke="#333" stroke-width="0.9"/><rect x="397.50" y="500.50" width="8.00" height="2.00" rx="0.8" fill="#fff" stroke="#333" stroke-width="0.9"/><path d="M351.5,500.5 L351.5,471.0 Q351.5,469.5 353.0,469.5 L405.0,469.5 Q406.5,469.5 406.5,471.0 L406.5,500.5" fill="#fff" stroke="#111" stroke-width="1.05" stroke-linejoin="round" /><line x1="351.50" y1="487.50" x2="406.50" y2="487.50" stroke="#111" stroke-width="1.0"/><line x1="351.50" y1="492.50" x2="406.50" y2="492.50" stroke="#111" stroke-width="1.05"/><line x1="379.50" y1="469.50" x2="379.50" y2="492.50" stroke="#111" stroke-width="1.05"/><line x1="351.50" y1="500.50" x2="406.50" y2="500.50" stroke="#111" stroke-width="1.1"/><text x="351.80" y="519.80" font-size="8.2" font-weight="bold" font-style="normal" fill="#000" textLength="23.27" lengthAdjust="spacingAndGlyphs">9JK210</text><text x="351.80" y="527.70" font-size="7.8" font-weight="normal" font-style="normal" fill="#111" stroke="#111" stroke-width="0.12" textLength="47.17" lengthAdjust="spacingAndGlyphs">L140 P100 H87</text><rect x="353.50" y="602.50" width="8.00" height="2.00" rx="0.8" fill="#fff" stroke="#333" stroke-width="0.9"/><rect x="404.50" y="602.50" width="8.00" height="2.00" rx="0.8" fill="#fff" stroke="#333" stroke-width="0.9"/><path d="M352.5,602.5 L352.5,573.0 Q352.5,571.5 354.0,571.5 L412.0,571.5 Q413.5,571.5 413.5,573.0 L413.5,602.5" fill="#fff" stroke="#111" stroke-width="1.05" stroke-linejoin="round" /><line x1="352.50" y1="589.50" x2="413.50" y2="589.50" stroke="#111" stroke-width="1.0"/><line x1="352.50" y1="594.50" x2="413.50" y2="594.50" stroke="#111" stroke-width="1.05"/><line x1="383.50" y1="571.50" x2="383.50" y2="594.50" stroke="#111" stroke-width="1.05"/><line x1="352.50" y1="602.50" x2="413.50" y2="602.50" stroke="#111" stroke-width="1.1"/><text x="352.80" y="622.00" font-size="8.2" font-weight="bold" font-style="normal" fill="#000" textLength="22.90" lengthAdjust="spacingAndGlyphs">9JK211</text><text x="352.80" y="629.90" font-size="7.8" font-weight="normal" font-style="normal" fill="#111" stroke="#111" stroke-width="0.12" textLength="47.17" lengthAdjust="spacingAndGlyphs">L160 P100 H87</text><rect x="352.50" y="704.50" width="8.00" height="2.00" rx="0.8" fill="#fff" stroke="#333" stroke-width="0.9"/><rect x="411.50" y="704.50" width="8.00" height="2.00" rx="0.8" fill="#fff" stroke="#333" stroke-width="0.9"/><path d="M351.5,704.5 L351.5,675.0 Q351.5,673.5 353.0,673.5 L419.0,673.5 Q420.5,673.5 420.5,675.0 L420.5,704.5" fill="#fff" stroke="#111" stroke-width="1.05" stroke-linejoin="round" /><line x1="351.50" y1="691.50" x2="420.50" y2="691.50" stroke="#111" stroke-width="1.0"/><line x1="351.50" y1="696.50" x2="420.50" y2="696.50" stroke="#111" stroke-width="1.05"/><line x1="386.50" y1="673.50" x2="386.50" y2="696.50" stroke="#111" stroke-width="1.05"/><line x1="351.50" y1="704.50" x2="420.50" y2="704.50" stroke="#111" stroke-width="1.1"/><text x="351.80" y="723.80" font-size="8.2" font-weight="bold" font-style="normal" fill="#000" textLength="23.27" lengthAdjust="spacingAndGlyphs">9JK212</text><text x="351.80" y="731.70" font-size="7.8" font-weight="normal" font-style="normal" fill="#111" stroke="#111" stroke-width="0.12" textLength="47.17" lengthAdjust="spacingAndGlyphs">L180 P100 H87</text><rect x="353.50" y="806.50" width="8.00" height="2.00" rx="0.8" fill="#fff" stroke="#333" stroke-width="0.9"/><rect x="419.50" y="806.50" width="8.00" height="2.00" rx="0.8" fill="#fff" stroke="#333" stroke-width="0.9"/><path d="M352.5,806.5 L352.5,777.0 Q352.5,775.5 354.0,775.5 L427.0,775.5 Q428.5,775.5 428.5,777.0 L428.5,806.5" fill="#fff" stroke="#111" stroke-width="1.05" stroke-linejoin="round" /><line x1="352.50" y1="793.50" x2="428.50" y2="793.50" stroke="#111" stroke-width="1.0"/><line x1="352.50" y1="798.50" x2="428.50" y2="798.50" stroke="#111" stroke-width="1.05"/><line x1="390.50" y1="775.50" x2="390.50" y2="798.50" stroke="#111" stroke-width="1.05"/><line x1="352.50" y1="806.50" x2="428.50" y2="806.50" stroke="#111" stroke-width="1.1"/><text x="352.80" y="826.30" font-size="8.2" font-weight="bold" font-style="normal" fill="#000" textLength="23.27" lengthAdjust="spacingAndGlyphs">9JK303</text><text x="352.80" y="834.20" font-size="7.8" font-weight="normal" font-style="normal" fill="#111" stroke="#111" stroke-width="0.12" textLength="47.17" lengthAdjust="spacingAndGlyphs">L200 P100 H87</text><text x="237.00" y="248.00" font-size="6.8" font-weight="normal" font-style="normal" fill="#111" stroke="#111" stroke-width="0.1" textLength="57.08" lengthAdjust="spacingAndGlyphs">Elemento angolare</text><text x="237.00" y="255.80" font-size="6.8" font-weight="normal" font-style="italic" fill="#111" stroke="#111" stroke-width="0.1" textLength="45.93" lengthAdjust="spacingAndGlyphs">Corner element</text><path d="M246.5,275.5 L238.5,275.5 Q237.5,275.5 237.5,276.5 L237.5,295.5 Q237.5,296.5 238.5,296.5" fill="#fff" stroke="#111" stroke-width="1.05" stroke-linejoin="round" /><circle cx="239.20" cy="273.30" r="1.7" fill="#fff" stroke="#111" stroke-width="0.9"/><path d="M246.5,296.5 L246.5,266.5 Q246.5,265.5 247.5,265.5 L273.5,265.5 Q274.5,265.5 274.5,266.5 L274.5,296.5" fill="#fff" stroke="#111" stroke-width="1.05" stroke-linejoin="round" /><path d="M249.3,265.5 L253.3,282.5" fill="none" stroke="#111" stroke-width="1.0" stroke-linejoin="round" /><line x1="246.50" y1="282.50" x2="274.50" y2="282.50" stroke="#111" stroke-width="1.0"/><line x1="246.50" y1="288.50" x2="274.50" y2="288.50" stroke="#111" stroke-width="1.05"/><line x1="237.50" y1="296.50" x2="274.50" y2="296.50" stroke="#111" stroke-width="1.1"/><circle cx="238.80" cy="297.70" r="1.0" fill="#444" stroke="#111" stroke-width="0.7"/><circle cx="273.50" cy="297.70" r="1.0" fill="#444" stroke="#111" stroke-width="0.7"/><text x="237.80" y="316.20" font-size="8.2" font-weight="bold" font-style="normal" fill="#000" textLength="23.27" lengthAdjust="spacingAndGlyphs">9JK104</text><text x="237.80" y="324.10" font-size="7.8" font-weight="normal" font-style="normal" fill="#111" stroke="#111" stroke-width="0.12" textLength="47.17" lengthAdjust="spacingAndGlyphs">L100 P100 H87</text><rect x="302.50" y="260.50" width="38.00" height="38.00" rx="0.0" fill="#fff" stroke="#111" stroke-width="1.05"/><line x1="302.50" y1="268.50" x2="340.50" y2="268.50" stroke="#111" stroke-width="1.0"/><path d="M315.5,268.5 L315.5,265.5 L335.5,265.5 L335.5,268.5" fill="#fff" stroke="#111" stroke-width="1.0" stroke-linejoin="round" /><path d="M310.5,268.5 L316.5,274.5 L340.5,274.5" fill="none" stroke="#111" stroke-width="1.0" stroke-linejoin="round" /><line x1="310.50" y1="268.50" x2="310.50" y2="298.50" stroke="#111" stroke-width="1.0"/><line x1="316.50" y1="274.50" x2="316.50" y2="298.50" stroke="#111" stroke-width="1.0"/><rect x="307.50" y="273.50" width="3.00" height="20.00" rx="0.0" fill="#fff" stroke="#111" stroke-width="0.9"/><rect x="471.50" y="296.50" width="8.00" height="2.00" rx="0.8" fill="#fff" stroke="#333" stroke-width="0.9"/><rect x="534.50" y="296.50" width="8.00" height="2.00" rx="0.8" fill="#fff" stroke="#333" stroke-width="0.9"/><path d="M480.5,276.5 L471.5,276.5 Q470.5,276.5 470.5,277.5 L470.5,295.5 Q470.5,296.5 471.5,296.5 L480.5,296.5" fill="#fff" stroke="#111" stroke-width="1.05" stroke-linejoin="round" /><path d="M533.5,276.5 L542.5,276.5 Q543.5,276.5 543.5,277.5 L543.5,295.5 Q543.5,296.5 542.5,296.5 L533.5,296.5" fill="#fff" stroke="#111" stroke-width="1.05" stroke-linejoin="round" /><path d="M480.5,296.5 L480.5,269.0 Q480.5,267.5 482.0,267.5 L532.0,267.5 Q533.5,267.5 533.5,269.0 L533.5,296.5" fill="#fff" stroke="#111" stroke-width="1.05" stroke-linejoin="round" /><line x1="480.50" y1="283.50" x2="533.50" y2="283.50" stroke="#111" stroke-width="1.0"/><line x1="480.50" y1="288.50" x2="533.50" y2="288.50" stroke="#111" stroke-width="1.05"/><line x1="507.50" y1="267.50" x2="507.50" y2="288.50" stroke="#111" stroke-width="1.05"/><line x1="470.50" y1="296.50" x2="543.50" y2="296.50" stroke="#111" stroke-width="1.1"/><text x="470.80" y="315.60" font-size="8.2" font-weight="bold" font-style="normal" fill="#000" textLength="23.27" lengthAdjust="spacingAndGlyphs">9JK214</text><text x="470.80" y="323.50" font-size="7.8" font-weight="normal" font-style="normal" fill="#111" stroke="#111" stroke-width="0.12" textLength="47.17" lengthAdjust="spacingAndGlyphs">L190 P100 H87</text><line x1="582.50" y1="257.50" x2="668.50" y2="257.50" stroke="#6e6e6e" stroke-width="1.6"/><text x="619.94" y="255.20" font-size="7.4" font-weight="normal" font-style="normal" fill="#222" stroke="#222" stroke-width="0.15" textLength="10.12" lengthAdjust="spacingAndGlyphs">225</text><path d="M620.5,282.5 L667,282.5 Q668,282.5 668,283.5 L668,296.5  L620.5,296.5" fill="#c8c8c8" stroke="#111" stroke-width="1.05" stroke-linejoin="round" /><path d="M583.5,275.5 L619.5,275.5 Q620.5,275.5 620.5,276.7 L620.5,296.3 L583.5,296.5 Q582.5,296.5 582.5,295.5 L582.5,276.5 Q582.5,275.5 583.5,275.5 Z" fill="#fff" stroke="#111" stroke-width="1.05" stroke-linejoin="round" /><line x1="582.50" y1="296.50" x2="668.00" y2="296.50" stroke="#111" stroke-width="1.1"/><path d="M591,275.5 L590.1,267.5 Q590.3,265.3 592.3,265.3 Q594,265.3 594.5,267.0 L597.5,275.5" fill="#fff" stroke="#111" stroke-width="1.05" stroke-linejoin="round" /><circle cx="589.20" cy="273.30" r="1.8" fill="#fff" stroke="#111" stroke-width="0.9"/><circle cx="584.00" cy="297.50" r="1.0" fill="#444" stroke="#111" stroke-width="0.6"/><circle cx="618.50" cy="297.50" r="1.0" fill="#444" stroke="#111" stroke-width="0.6"/><circle cx="659.50" cy="297.50" r="1.0" fill="#444" stroke="#111" stroke-width="0.6"/><text x="582.50" y="316.00" font-size="7.8" font-weight="normal" font-style="normal" fill="#111" stroke="#111" stroke-width="0.22" textLength="30.95" lengthAdjust="spacingAndGlyphs">Materasso</text><text x="582.50" y="323.70" font-size="7.8" font-weight="normal" font-style="italic" fill="#111" stroke="#111" stroke-width="0.22" textLength="25.42" lengthAdjust="spacingAndGlyphs">Mattress</text><text x="582.50" y="331.50" font-size="7.8" font-weight="normal" font-style="normal" fill="#111" stroke="#111" stroke-width="0.22" textLength="46.66" lengthAdjust="spacingAndGlyphs">L110 P190 H15</text><rect x="468.50" y="398.50" width="8.00" height="2.00" rx="0.8" fill="#fff" stroke="#333" stroke-width="0.9"/><rect x="537.50" y="398.50" width="8.00" height="2.00" rx="0.8" fill="#fff" stroke="#333" stroke-width="0.9"/><path d="M477.5,377.5 L468.5,377.5 Q467.5,377.5 467.5,378.5 L467.5,397.5 Q467.5,398.5 468.5,398.5 L477.5,398.5" fill="#fff" stroke="#111" stroke-width="1.05" stroke-linejoin="round" /><path d="M536.5,377.5 L545.5,377.5 Q546.5,377.5 546.5,378.5 L546.5,397.5 Q546.5,398.5 545.5,398.5 L536.5,398.5" fill="#fff" stroke="#111" stroke-width="1.05" stroke-linejoin="round" /><path d="M477.5,398.5 L477.5,369.0 Q477.5,367.5 479.0,367.5 L535.0,367.5 Q536.5,367.5 536.5,369.0 L536.5,398.5" fill="#fff" stroke="#111" stroke-width="1.05" stroke-linejoin="round" /><line x1="477.50" y1="385.50" x2="536.50" y2="385.50" stroke="#111" stroke-width="1.0"/><line x1="477.50" y1="390.50" x2="536.50" y2="390.50" stroke="#111" stroke-width="1.05"/><line x1="507.50" y1="367.50" x2="507.50" y2="390.50" stroke="#111" stroke-width="1.05"/><line x1="467.50" y1="398.50" x2="546.50" y2="398.50" stroke="#111" stroke-width="1.1"/><text x="467.80" y="418.50" font-size="8.2" font-weight="bold" font-style="normal" fill="#000" textLength="23.27" lengthAdjust="spacingAndGlyphs">9JK215</text><text x="467.80" y="426.40" font-size="7.8" font-weight="normal" font-style="normal" fill="#111" stroke="#111" stroke-width="0.12" textLength="47.17" lengthAdjust="spacingAndGlyphs">L210 P100 H87</text><line x1="582.50" y1="359.50" x2="668.50" y2="359.50" stroke="#6e6e6e" stroke-width="1.6"/><text x="619.94" y="357.20" font-size="7.4" font-weight="normal" font-style="normal" fill="#222" stroke="#222" stroke-width="0.15" textLength="10.12" lengthAdjust="spacingAndGlyphs">225</text><path d="M620.5,384.5 L667,384.5 Q668,384.5 668,385.5 L668,398.5  L620.5,398.5" fill="#c8c8c8" stroke="#111" stroke-width="1.05" stroke-linejoin="round" /><path d="M583.5,377.5 L619.5,377.5 Q620.5,377.5 620.5,378.7 L620.5,398.3 L583.5,398.5 Q582.5,398.5 582.5,397.5 L582.5,378.5 Q582.5,377.5 583.5,377.5 Z" fill="#fff" stroke="#111" stroke-width="1.05" stroke-linejoin="round" /><line x1="582.50" y1="398.50" x2="668.00" y2="398.50" stroke="#111" stroke-width="1.1"/><path d="M591,377.5 L590.1,369.5 Q590.3,367.3 592.3,367.3 Q594,367.3 594.5,369.0 L597.5,377.5" fill="#fff" stroke="#111" stroke-width="1.05" stroke-linejoin="round" /><circle cx="589.20" cy="375.30" r="1.8" fill="#fff" stroke="#111" stroke-width="0.9"/><circle cx="584.00" cy="399.50" r="1.0" fill="#444" stroke="#111" stroke-width="0.6"/><circle cx="618.50" cy="399.50" r="1.0" fill="#444" stroke="#111" stroke-width="0.6"/><circle cx="659.50" cy="399.50" r="1.0" fill="#444" stroke="#111" stroke-width="0.6"/><text x="582.50" y="418.00" font-size="7.8" font-weight="normal" font-style="normal" fill="#111" stroke="#111" stroke-width="0.22" textLength="30.95" lengthAdjust="spacingAndGlyphs">Materasso</text><text x="582.50" y="425.70" font-size="7.8" font-weight="normal" font-style="italic" fill="#111" stroke="#111" stroke-width="0.22" textLength="25.42" lengthAdjust="spacingAndGlyphs">Mattress</text><text x="582.50" y="433.50" font-size="7.8" font-weight="normal" font-style="normal" fill="#111" stroke="#111" stroke-width="0.22" textLength="46.66" lengthAdjust="spacingAndGlyphs">L115 P190 H15</text><rect x="468.50" y="500.50" width="8.00" height="2.00" rx="0.8" fill="#fff" stroke="#333" stroke-width="0.9"/><rect x="545.50" y="500.50" width="8.00" height="2.00" rx="0.8" fill="#fff" stroke="#333" stroke-width="0.9"/><path d="M477.5,479.5 L468.5,479.5 Q467.5,479.5 467.5,480.5 L467.5,499.5 Q467.5,500.5 468.5,500.5 L477.5,500.5" fill="#fff" stroke="#111" stroke-width="1.05" stroke-linejoin="round" /><path d="M544.5,479.5 L553.5,479.5 Q554.5,479.5 554.5,480.5 L554.5,499.5 Q554.5,500.5 553.5,500.5 L544.5,500.5" fill="#fff" stroke="#111" stroke-width="1.05" stroke-linejoin="round" /><path d="M477.5,500.5 L477.5,471.0 Q477.5,469.5 479.0,469.5 L543.0,469.5 Q544.5,469.5 544.5,471.0 L544.5,500.5" fill="#fff" stroke="#111" stroke-width="1.05" stroke-linejoin="round" /><line x1="477.50" y1="487.50" x2="544.50" y2="487.50" stroke="#111" stroke-width="1.0"/><line x1="477.50" y1="492.50" x2="544.50" y2="492.50" stroke="#111" stroke-width="1.05"/><line x1="511.50" y1="469.50" x2="511.50" y2="492.50" stroke="#111" stroke-width="1.05"/><line x1="467.50" y1="500.50" x2="554.50" y2="500.50" stroke="#111" stroke-width="1.1"/><text x="467.80" y="519.80" font-size="8.2" font-weight="bold" font-style="normal" fill="#000" textLength="23.27" lengthAdjust="spacingAndGlyphs">9JK216</text><text x="467.80" y="527.70" font-size="7.8" font-weight="normal" font-style="normal" fill="#111" stroke="#111" stroke-width="0.12" textLength="47.17" lengthAdjust="spacingAndGlyphs">L230 P100 H87</text><line x1="582.50" y1="460.50" x2="668.50" y2="460.50" stroke="#6e6e6e" stroke-width="1.6"/><text x="619.94" y="458.20" font-size="7.4" font-weight="normal" font-style="normal" fill="#222" stroke="#222" stroke-width="0.15" textLength="10.12" lengthAdjust="spacingAndGlyphs">225</text><path d="M620.5,486.5 L667,486.5 Q668,486.5 668,487.5 L668,500.5  L620.5,500.5" fill="#c8c8c8" stroke="#111" stroke-width="1.05" stroke-linejoin="round" /><path d="M583.5,479.5 L619.5,479.5 Q620.5,479.5 620.5,480.7 L620.5,500.3 L583.5,500.5 Q582.5,500.5 582.5,499.5 L582.5,480.5 Q582.5,479.5 583.5,479.5 Z" fill="#fff" stroke="#111" stroke-width="1.05" stroke-linejoin="round" /><line x1="582.50" y1="500.50" x2="668.00" y2="500.50" stroke="#111" stroke-width="1.1"/><path d="M591,479.5 L590.1,471.5 Q590.3,469.3 592.3,469.3 Q594,469.3 594.5,471.0 L597.5,479.5" fill="#fff" stroke="#111" stroke-width="1.05" stroke-linejoin="round" /><circle cx="589.20" cy="477.30" r="1.8" fill="#fff" stroke="#111" stroke-width="0.9"/><circle cx="584.00" cy="501.50" r="1.0" fill="#444" stroke="#111" stroke-width="0.6"/><circle cx="618.50" cy="501.50" r="1.0" fill="#444" stroke="#111" stroke-width="0.6"/><circle cx="659.50" cy="501.50" r="1.0" fill="#444" stroke="#111" stroke-width="0.6"/><text x="582.50" y="520.00" font-size="7.8" font-weight="normal" font-style="normal" fill="#111" stroke="#111" stroke-width="0.22" textLength="30.95" lengthAdjust="spacingAndGlyphs">Materasso</text><text x="582.50" y="527.70" font-size="7.8" font-weight="normal" font-style="italic" fill="#111" stroke="#111" stroke-width="0.22" textLength="25.42" lengthAdjust="spacingAndGlyphs">Mattress</text><text x="582.50" y="535.50" font-size="7.8" font-weight="normal" font-style="normal" fill="#111" stroke="#111" stroke-width="0.22" textLength="47.17" lengthAdjust="spacingAndGlyphs">L145 P190 H15</text><rect x="468.50" y="602.50" width="8.00" height="2.00" rx="0.8" fill="#fff" stroke="#333" stroke-width="0.9"/><rect x="553.50" y="602.50" width="8.00" height="2.00" rx="0.8" fill="#fff" stroke="#333" stroke-width="0.9"/><path d="M477.5,581.5 L468.5,581.5 Q467.5,581.5 467.5,582.5 L467.5,601.5 Q467.5,602.5 468.5,602.5 L477.5,602.5" fill="#fff" stroke="#111" stroke-width="1.05" stroke-linejoin="round" /><path d="M552.5,581.5 L561.5,581.5 Q562.5,581.5 562.5,582.5 L562.5,601.5 Q562.5,602.5 561.5,602.5 L552.5,602.5" fill="#fff" stroke="#111" stroke-width="1.05" stroke-linejoin="round" /><path d="M477.5,602.5 L477.5,573.0 Q477.5,571.5 479.0,571.5 L551.0,571.5 Q552.5,571.5 552.5,573.0 L552.5,602.5" fill="#fff" stroke="#111" stroke-width="1.05" stroke-linejoin="round" /><line x1="477.50" y1="589.50" x2="552.50" y2="589.50" stroke="#111" stroke-width="1.0"/><line x1="477.50" y1="594.50" x2="552.50" y2="594.50" stroke="#111" stroke-width="1.05"/><line x1="515.50" y1="571.50" x2="515.50" y2="594.50" stroke="#111" stroke-width="1.05"/><line x1="467.50" y1="602.50" x2="562.50" y2="602.50" stroke="#111" stroke-width="1.1"/><text x="467.80" y="622.00" font-size="8.2" font-weight="bold" font-style="normal" fill="#000" textLength="23.27" lengthAdjust="spacingAndGlyphs">9JK304</text><text x="467.80" y="629.90" font-size="7.8" font-weight="normal" font-style="normal" fill="#111" stroke="#111" stroke-width="0.12" textLength="47.17" lengthAdjust="spacingAndGlyphs">L250 P100 H87</text><line x1="582.50" y1="564.50" x2="668.50" y2="564.50" stroke="#6e6e6e" stroke-width="1.6"/><text x="619.94" y="562.20" font-size="7.4" font-weight="normal" font-style="normal" fill="#222" stroke="#222" stroke-width="0.15" textLength="10.12" lengthAdjust="spacingAndGlyphs">225</text><path d="M620.5,588.5 L667,588.5 Q668,588.5 668,589.5 L668,602.5  L620.5,602.5" fill="#c8c8c8" stroke="#111" stroke-width="1.05" stroke-linejoin="round" /><path d="M583.5,581.5 L619.5,581.5 Q620.5,581.5 620.5,582.7 L620.5,602.3 L583.5,602.5 Q582.5,602.5 582.5,601.5 L582.5,582.5 Q582.5,581.5 583.5,581.5 Z" fill="#fff" stroke="#111" stroke-width="1.05" stroke-linejoin="round" /><line x1="582.50" y1="602.50" x2="668.00" y2="602.50" stroke="#111" stroke-width="1.1"/><path d="M591,581.5 L590.1,573.5 Q590.3,571.3 592.3,571.3 Q594,571.3 594.5,573.0 L597.5,581.5" fill="#fff" stroke="#111" stroke-width="1.05" stroke-linejoin="round" /><circle cx="589.20" cy="579.30" r="1.8" fill="#fff" stroke="#111" stroke-width="0.9"/><circle cx="584.00" cy="603.50" r="1.0" fill="#444" stroke="#111" stroke-width="0.6"/><circle cx="618.50" cy="603.50" r="1.0" fill="#444" stroke="#111" stroke-width="0.6"/><circle cx="659.50" cy="603.50" r="1.0" fill="#444" stroke="#111" stroke-width="0.6"/><text x="582.50" y="622.00" font-size="7.8" font-weight="normal" font-style="normal" fill="#111" stroke="#111" stroke-width="0.22" textLength="30.95" lengthAdjust="spacingAndGlyphs">Materasso</text><text x="582.50" y="629.70" font-size="7.8" font-weight="normal" font-style="italic" fill="#111" stroke="#111" stroke-width="0.22" textLength="25.42" lengthAdjust="spacingAndGlyphs">Mattress</text><text x="582.50" y="637.50" font-size="7.8" font-weight="normal" font-style="normal" fill="#111" stroke="#111" stroke-width="0.22" textLength="47.17" lengthAdjust="spacingAndGlyphs">L160 P190 H15</text><rect x="468.50" y="704.50" width="8.00" height="2.00" rx="0.8" fill="#fff" stroke="#333" stroke-width="0.9"/><rect x="529.50" y="704.50" width="8.00" height="2.00" rx="0.8" fill="#fff" stroke="#333" stroke-width="0.9"/><path d="M477.5,683.5 L468.5,683.5 Q467.5,683.5 467.5,684.5 L467.5,703.5 Q467.5,704.5 468.5,704.5 L477.5,704.5" fill="#fff" stroke="#111" stroke-width="1.05" stroke-linejoin="round" /><path d="M477.5,704.5 L477.5,675.0 Q477.5,673.5 479.0,673.5 L537.0,673.5 Q538.5,673.5 538.5,675.0 L538.5,704.5" fill="#fff" stroke="#111" stroke-width="1.05" stroke-linejoin="round" /><line x1="477.50" y1="691.50" x2="538.50" y2="691.50" stroke="#111" stroke-width="1.0"/><line x1="477.50" y1="696.50" x2="538.50" y2="696.50" stroke="#111" stroke-width="1.05"/><line x1="508.50" y1="673.50" x2="508.50" y2="696.50" stroke="#111" stroke-width="1.05"/><line x1="467.50" y1="704.50" x2="538.50" y2="704.50" stroke="#111" stroke-width="1.1"/><text x="467.80" y="724.00" font-size="8.2" font-weight="bold" font-style="normal" fill="#000" textLength="23.27" lengthAdjust="spacingAndGlyphs">9JK217</text><text x="467.80" y="731.90" font-size="7.8" font-weight="normal" font-style="normal" fill="#111" stroke="#111" stroke-width="0.12" textLength="47.17" lengthAdjust="spacingAndGlyphs">L185 P100 H87</text><line x1="582.50" y1="664.50" x2="668.50" y2="664.50" stroke="#6e6e6e" stroke-width="1.6"/><text x="619.94" y="662.20" font-size="7.4" font-weight="normal" font-style="normal" fill="#222" stroke="#222" stroke-width="0.15" textLength="10.12" lengthAdjust="spacingAndGlyphs">225</text><path d="M620.5,690.5 L667,690.5 Q668,690.5 668,691.5 L668,704.5  L620.5,704.5" fill="#c8c8c8" stroke="#111" stroke-width="1.05" stroke-linejoin="round" /><path d="M583.5,683.5 L619.5,683.5 Q620.5,683.5 620.5,684.7 L620.5,704.3 L583.5,704.5 Q582.5,704.5 582.5,703.5 L582.5,684.5 Q582.5,683.5 583.5,683.5 Z" fill="#fff" stroke="#111" stroke-width="1.05" stroke-linejoin="round" /><line x1="582.50" y1="704.50" x2="668.00" y2="704.50" stroke="#111" stroke-width="1.1"/><path d="M591,683.5 L590.1,675.5 Q590.3,673.3 592.3,673.3 Q594,673.3 594.5,675.0 L597.5,683.5" fill="#fff" stroke="#111" stroke-width="1.05" stroke-linejoin="round" /><circle cx="589.20" cy="681.30" r="1.8" fill="#fff" stroke="#111" stroke-width="0.9"/><circle cx="584.00" cy="705.50" r="1.0" fill="#444" stroke="#111" stroke-width="0.6"/><circle cx="618.50" cy="705.50" r="1.0" fill="#444" stroke="#111" stroke-width="0.6"/><circle cx="659.50" cy="705.50" r="1.0" fill="#444" stroke="#111" stroke-width="0.6"/><text x="582.50" y="724.00" font-size="7.8" font-weight="normal" font-style="normal" fill="#111" stroke="#111" stroke-width="0.22" textLength="30.95" lengthAdjust="spacingAndGlyphs">Materasso</text><text x="582.50" y="731.70" font-size="7.8" font-weight="normal" font-style="italic" fill="#111" stroke="#111" stroke-width="0.22" textLength="25.42" lengthAdjust="spacingAndGlyphs">Mattress</text><text x="582.50" y="739.50" font-size="7.8" font-weight="normal" font-style="normal" fill="#111" stroke="#111" stroke-width="0.22" textLength="46.66" lengthAdjust="spacingAndGlyphs">L115 P190 H15</text><rect x="468.50" y="806.50" width="8.00" height="2.00" rx="0.8" fill="#fff" stroke="#333" stroke-width="0.9"/><rect x="536.50" y="806.50" width="8.00" height="2.00" rx="0.8" fill="#fff" stroke="#333" stroke-width="0.9"/><path d="M477.5,785.5 L468.5,785.5 Q467.5,785.5 467.5,786.5 L467.5,805.5 Q467.5,806.5 468.5,806.5 L477.5,806.5" fill="#fff" stroke="#111" stroke-width="1.05" stroke-linejoin="round" /><path d="M477.5,806.5 L477.5,777.0 Q477.5,775.5 479.0,775.5 L544.0,775.5 Q545.5,775.5 545.5,777.0 L545.5,806.5" fill="#fff" stroke="#111" stroke-width="1.05" stroke-linejoin="round" /><line x1="477.50" y1="793.50" x2="545.50" y2="793.50" stroke="#111" stroke-width="1.0"/><line x1="477.50" y1="798.50" x2="545.50" y2="798.50" stroke="#111" stroke-width="1.05"/><line x1="511.50" y1="775.50" x2="511.50" y2="798.50" stroke="#111" stroke-width="1.05"/><line x1="467.50" y1="806.50" x2="545.50" y2="806.50" stroke="#111" stroke-width="1.1"/><text x="467.80" y="826.40" font-size="8.2" font-weight="bold" font-style="normal" fill="#000" textLength="23.27" lengthAdjust="spacingAndGlyphs">9JK218</text><text x="467.80" y="834.30" font-size="7.8" font-weight="normal" font-style="normal" fill="#111" stroke="#111" stroke-width="0.12" textLength="47.17" lengthAdjust="spacingAndGlyphs">L205 P100 H87</text><line x1="582.50" y1="767.50" x2="668.50" y2="767.50" stroke="#6e6e6e" stroke-width="1.6"/><text x="619.94" y="765.20" font-size="7.4" font-weight="normal" font-style="normal" fill="#222" stroke="#222" stroke-width="0.15" textLength="10.12" lengthAdjust="spacingAndGlyphs">225</text><path d="M620.5,792.5 L667,792.5 Q668,792.5 668,793.5 L668,806.5  L620.5,806.5" fill="#c8c8c8" stroke="#111" stroke-width="1.05" stroke-linejoin="round" /><path d="M583.5,785.5 L619.5,785.5 Q620.5,785.5 620.5,786.7 L620.5,806.3 L583.5,806.5 Q582.5,806.5 582.5,805.5 L582.5,786.5 Q582.5,785.5 583.5,785.5 Z" fill="#fff" stroke="#111" stroke-width="1.05" stroke-linejoin="round" /><line x1="582.50" y1="806.50" x2="668.00" y2="806.50" stroke="#111" stroke-width="1.1"/><path d="M591,785.5 L590.1,777.5 Q590.3,775.3 592.3,775.3 Q594,775.3 594.5,777.0 L597.5,785.5" fill="#fff" stroke="#111" stroke-width="1.05" stroke-linejoin="round" /><circle cx="589.20" cy="783.30" r="1.8" fill="#fff" stroke="#111" stroke-width="0.9"/><circle cx="584.00" cy="807.50" r="1.0" fill="#444" stroke="#111" stroke-width="0.6"/><circle cx="618.50" cy="807.50" r="1.0" fill="#444" stroke="#111" stroke-width="0.6"/><circle cx="659.50" cy="807.50" r="1.0" fill="#444" stroke="#111" stroke-width="0.6"/><text x="582.50" y="826.00" font-size="7.8" font-weight="normal" font-style="normal" fill="#111" stroke="#111" stroke-width="0.22" textLength="30.95" lengthAdjust="spacingAndGlyphs">Materasso</text><text x="582.50" y="833.70" font-size="7.8" font-weight="normal" font-style="italic" fill="#111" stroke="#111" stroke-width="0.22" textLength="25.42" lengthAdjust="spacingAndGlyphs">Mattress</text><text x="582.50" y="841.50" font-size="7.8" font-weight="normal" font-style="normal" fill="#111" stroke="#111" stroke-width="0.22" textLength="47.17" lengthAdjust="spacingAndGlyphs">L145 P190 H15</text><rect x="468.50" y="909.50" width="8.00" height="2.00" rx="0.8" fill="#fff" stroke="#333" stroke-width="0.9"/><rect x="544.50" y="909.50" width="8.00" height="2.00" rx="0.8" fill="#fff" stroke="#333" stroke-width="0.9"/><path d="M477.5,888.5 L468.5,888.5 Q467.5,888.5 467.5,889.5 L467.5,908.5 Q467.5,909.5 468.5,909.5 L477.5,909.5" fill="#fff" stroke="#111" stroke-width="1.05" stroke-linejoin="round" /><path d="M477.5,909.5 L477.5,880.0 Q477.5,878.5 479.0,878.5 L552.0,878.5 Q553.5,878.5 553.5,880.0 L553.5,909.5" fill="#fff" stroke="#111" stroke-width="1.05" stroke-linejoin="round" /><line x1="477.50" y1="896.50" x2="553.50" y2="896.50" stroke="#111" stroke-width="1.0"/><line x1="477.50" y1="901.50" x2="553.50" y2="901.50" stroke="#111" stroke-width="1.05"/><line x1="515.50" y1="878.50" x2="515.50" y2="901.50" stroke="#111" stroke-width="1.05"/><line x1="467.50" y1="909.50" x2="553.50" y2="909.50" stroke="#111" stroke-width="1.1"/><text x="467.80" y="928.80" font-size="8.2" font-weight="bold" font-style="normal" fill="#000" textLength="23.27" lengthAdjust="spacingAndGlyphs">9JK219</text><text x="467.80" y="936.70" font-size="7.8" font-weight="normal" font-style="normal" fill="#111" stroke="#111" stroke-width="0.12" textLength="47.17" lengthAdjust="spacingAndGlyphs">L225 P100 H87</text><line x1="582.50" y1="870.50" x2="668.50" y2="870.50" stroke="#6e6e6e" stroke-width="1.6"/><text x="619.94" y="868.20" font-size="7.4" font-weight="normal" font-style="normal" fill="#222" stroke="#222" stroke-width="0.15" textLength="10.12" lengthAdjust="spacingAndGlyphs">225</text><path d="M620.5,894.5 L667,894.5 Q668,894.5 668,895.5 L668,908.5  L620.5,908.5" fill="#c8c8c8" stroke="#111" stroke-width="1.05" stroke-linejoin="round" /><path d="M583.5,887.5 L619.5,887.5 Q620.5,887.5 620.5,888.7 L620.5,908.3 L583.5,908.5 Q582.5,908.5 582.5,907.5 L582.5,888.5 Q582.5,887.5 583.5,887.5 Z" fill="#fff" stroke="#111" stroke-width="1.05" stroke-linejoin="round" /><line x1="582.50" y1="908.50" x2="668.00" y2="908.50" stroke="#111" stroke-width="1.1"/><path d="M591,887.5 L590.1,879.5 Q590.3,877.3 592.3,877.3 Q594,877.3 594.5,879.0 L597.5,887.5" fill="#fff" stroke="#111" stroke-width="1.05" stroke-linejoin="round" /><circle cx="589.20" cy="885.30" r="1.8" fill="#fff" stroke="#111" stroke-width="0.9"/><circle cx="584.00" cy="909.50" r="1.0" fill="#444" stroke="#111" stroke-width="0.6"/><circle cx="618.50" cy="909.50" r="1.0" fill="#444" stroke="#111" stroke-width="0.6"/><circle cx="659.50" cy="909.50" r="1.0" fill="#444" stroke="#111" stroke-width="0.6"/><text x="582.50" y="928.00" font-size="7.8" font-weight="normal" font-style="normal" fill="#111" stroke="#111" stroke-width="0.22" textLength="30.95" lengthAdjust="spacingAndGlyphs">Materasso</text><text x="582.50" y="935.70" font-size="7.8" font-weight="normal" font-style="italic" fill="#111" stroke="#111" stroke-width="0.22" textLength="25.42" lengthAdjust="spacingAndGlyphs">Mattress</text><text x="582.50" y="943.50" font-size="7.8" font-weight="normal" font-style="normal" fill="#111" stroke="#111" stroke-width="0.22" textLength="47.17" lengthAdjust="spacingAndGlyphs">L160 P190 H15</text><path d="M808.5,283.5 L866.0,283.5 Q867.5,283.5 867.5,285.0 L867.5,295.5 Q867.5,296.5 866.5,296.5 L808.5,296.5" fill="#fff" stroke="#111" stroke-width="1.05" stroke-linejoin="round" /><line x1="808.50" y1="288.50" x2="867.50" y2="288.50" stroke="#111" stroke-width="1.05"/><path d="M815.5,283.5 L815.5,275.5 L836.3,275.5 Q837.8,275.5 837.8,277.0 L837.8,283.5" fill="#fff" stroke="#111" stroke-width="1.0" stroke-linejoin="round" /><path d="M809,283.5 L808.2,268.5 Q808.4,266.2 810.5,266.2 Q812.3,266.2 812.8,268.0 L816,283.5" fill="#fff" stroke="#111" stroke-width="1.05" stroke-linejoin="round" /><path d="M808.5,276.5 L800.5,276.5 Q799.5,276.5 799.5,277.5 L799.5,295.5 Q799.5,296.5 800.5,296.5 L808.5,296.5 Z" fill="#fff" stroke="#111" stroke-width="1.05" stroke-linejoin="round" /><circle cx="806.30" cy="273.90" r="1.8" fill="#fff" stroke="#111" stroke-width="0.9"/><line x1="799.50" y1="296.50" x2="867.50" y2="296.50" stroke="#111" stroke-width="1.1"/><rect x="800.50" y="296.50" width="7.50" height="2.00" rx="0.8" fill="#fff" stroke="#333" stroke-width="0.9"/><rect x="859.00" y="296.50" width="7.50" height="2.00" rx="0.8" fill="#fff" stroke="#333" stroke-width="0.9"/><text x="800.20" y="316.80" font-size="8.2" font-weight="bold" font-style="normal" fill="#000" textLength="23.27" lengthAdjust="spacingAndGlyphs">9JK102</text><text x="800.20" y="324.70" font-size="7.8" font-weight="normal" font-style="normal" fill="#111" stroke="#111" stroke-width="0.12" textLength="43.39" lengthAdjust="spacingAndGlyphs">L180 P98 H87</text><line x1="837.30" y1="254.50" x2="867.70" y2="254.50" stroke="#6e6e6e" stroke-width="1.6"/><text x="849.13" y="252.20" font-size="7.4" font-weight="normal" font-style="normal" fill="#222" stroke="#222" stroke-width="0.15" textLength="6.75" lengthAdjust="spacingAndGlyphs">90</text><rect x="900.50" y="261.50" width="68.00" height="37.00" rx="0.0" fill="#fff" stroke="#222" stroke-width="1.2"/><path d="M900.5,270.5 L938.5,270.5 L938.5,261.5" fill="none" stroke="#111" stroke-width="1.05" stroke-linejoin="round" /><line x1="910.50" y1="270.50" x2="910.50" y2="298.50" stroke="#111" stroke-width="1.05"/><path d="M910.5,272.5 L915.5,272.5 Q917.5,284.5 915.5,296.5 L910.5,296.5" fill="#fff" stroke="#111" stroke-width="1.0" stroke-linejoin="round" /><rect x="907.50" y="274.50" width="3.00" height="20.00" rx="0.0" fill="#d0d0d0" stroke="#222" stroke-width="0.9"/><line x1="938.80" y1="254.50" x2="968.70" y2="254.50" stroke="#6e6e6e" stroke-width="1.6"/><text x="950.38" y="252.20" font-size="7.4" font-weight="normal" font-style="normal" fill="#222" stroke="#222" stroke-width="0.15" textLength="6.75" lengthAdjust="spacingAndGlyphs">90</text><path d="M808.5,384.5 L866.0,384.5 Q867.5,384.5 867.5,386.0 L867.5,396.5 Q867.5,397.5 866.5,397.5 L808.5,397.5" fill="#fff" stroke="#111" stroke-width="1.05" stroke-linejoin="round" /><line x1="808.50" y1="389.50" x2="867.50" y2="389.50" stroke="#111" stroke-width="1.05"/><path d="M809,384.5 L808.2,369.5 Q808.4,367.2 810.5,367.2 Q812.3,367.2 812.8,369.0 L816,384.5" fill="#fff" stroke="#111" stroke-width="1.05" stroke-linejoin="round" /><path d="M808.5,377.5 L800.5,377.5 Q799.5,377.5 799.5,378.5 L799.5,396.5 Q799.5,397.5 800.5,397.5 L808.5,397.5 Z" fill="#fff" stroke="#111" stroke-width="1.05" stroke-linejoin="round" /><circle cx="806.30" cy="374.90" r="1.8" fill="#fff" stroke="#111" stroke-width="0.9"/><line x1="799.50" y1="397.50" x2="867.50" y2="397.50" stroke="#111" stroke-width="1.1"/><rect x="800.50" y="397.50" width="7.50" height="2.00" rx="0.8" fill="#fff" stroke="#333" stroke-width="0.9"/><rect x="859.00" y="397.50" width="7.50" height="2.00" rx="0.8" fill="#fff" stroke="#333" stroke-width="0.9"/><text x="800.20" y="417.80" font-size="8.2" font-weight="bold" font-style="normal" fill="#000" textLength="23.27" lengthAdjust="spacingAndGlyphs">9JK108</text><text x="800.20" y="425.70" font-size="7.8" font-weight="normal" font-style="normal" fill="#111" stroke="#111" stroke-width="0.12" textLength="43.39" lengthAdjust="spacingAndGlyphs">L180 P98 H87</text><rect x="900.50" y="363.50" width="68.00" height="38.00" rx="0.0" fill="#fff" stroke="#222" stroke-width="1.2"/><line x1="910.50" y1="363.50" x2="910.50" y2="401.50" stroke="#111" stroke-width="1.05"/><path d="M910.5,365.5 L915.5,365.5 Q917.5,382.5 915.5,399.5 L910.5,399.5" fill="#fff" stroke="#111" stroke-width="1.0" stroke-linejoin="round" /><rect x="907.50" y="367.50" width="3.00" height="30.00" rx="0.0" fill="#d0d0d0" stroke="#222" stroke-width="0.9"/><path d="M808.5,487.5 L874.0,487.5 Q875.5,487.5 875.5,489.0 L875.5,499.5 Q875.5,500.5 874.5,500.5 L808.5,500.5" fill="#fff" stroke="#111" stroke-width="1.05" stroke-linejoin="round" /><line x1="808.50" y1="492.50" x2="875.50" y2="492.50" stroke="#111" stroke-width="1.05"/><path d="M815.5,487.5 L815.5,481.5 Q815.5,480.5 816.5,480.5 L821.5,480.5 Q822.5,480.5 822.5,481.5 L822.5,487.5" fill="#fff" stroke="#111" stroke-width="1.0" stroke-linejoin="round" /><path d="M822.5,487.5 L822.5,471.5 Q822.5,470.5 823.5,470.5 L847.5,470.5 Q848.5,470.5 848.5,471.5 L848.5,487.5" fill="#fff" stroke="#111" stroke-width="1.0" stroke-linejoin="round" /><path d="M848.5,487.5 L848.5,481.5 Q848.5,480.5 849.5,480.5 L851.6,480.5 Q852.6,480.5 852.6,481.5 L852.6,487.5" fill="#fff" stroke="#111" stroke-width="1.0" stroke-linejoin="round" /><path d="M809,487.5 L808.2,472.5 Q808.4,470.2 810.5,470.2 Q812.3,470.2 812.8,472.0 L816,487.5" fill="#fff" stroke="#111" stroke-width="1.05" stroke-linejoin="round" /><path d="M808.5,480.5 L800.5,480.5 Q799.5,480.5 799.5,481.5 L799.5,499.5 Q799.5,500.5 800.5,500.5 L808.5,500.5 Z" fill="#fff" stroke="#111" stroke-width="1.05" stroke-linejoin="round" /><circle cx="806.30" cy="477.90" r="1.8" fill="#fff" stroke="#111" stroke-width="0.9"/><line x1="799.50" y1="500.50" x2="875.50" y2="500.50" stroke="#111" stroke-width="1.1"/><rect x="800.50" y="500.50" width="7.50" height="2.00" rx="0.8" fill="#fff" stroke="#333" stroke-width="0.9"/><rect x="867.00" y="500.50" width="7.50" height="2.00" rx="0.8" fill="#fff" stroke="#333" stroke-width="0.9"/><text x="800.20" y="520.80" font-size="8.2" font-weight="bold" font-style="normal" fill="#000" textLength="23.27" lengthAdjust="spacingAndGlyphs">9JK103</text><text x="800.20" y="528.70" font-size="7.8" font-weight="normal" font-style="normal" fill="#111" stroke="#111" stroke-width="0.12" textLength="43.39" lengthAdjust="spacingAndGlyphs">L200 P98 H87</text><line x1="823.50" y1="457.50" x2="848.50" y2="457.50" stroke="#6e6e6e" stroke-width="1.6"/><text x="832.63" y="455.20" font-size="7.4" font-weight="normal" font-style="normal" fill="#222" stroke="#222" stroke-width="0.15" textLength="6.75" lengthAdjust="spacingAndGlyphs">70</text><line x1="854.70" y1="457.50" x2="875.50" y2="457.50" stroke="#6e6e6e" stroke-width="1.6"/><text x="861.73" y="455.20" font-size="7.4" font-weight="normal" font-style="normal" fill="#222" stroke="#222" stroke-width="0.15" textLength="6.75" lengthAdjust="spacingAndGlyphs">55</text><rect x="899.50" y="465.50" width="77.00" height="38.00" rx="0.0" fill="#fff" stroke="#222" stroke-width="1.2"/><path d="M899.5,475.5 L953.5,475.5 L953.5,465.5" fill="none" stroke="#111" stroke-width="1.05" stroke-linejoin="round" /><path d="M925.4,472.5 L947.4,472.5 L949.4,474.5 L949.4,480.5 L923.4,480.5 L923.4,474.5 Z" fill="#fff" stroke="#111" stroke-width="1.0" stroke-linejoin="round" /><line x1="909.50" y1="475.50" x2="909.50" y2="503.50" stroke="#111" stroke-width="1.05"/><path d="M909.5,477.5 L914.5,477.5 Q916.5,489.5 914.5,501.5 L909.5,501.5" fill="#fff" stroke="#111" stroke-width="1.0" stroke-linejoin="round" /><rect x="906.50" y="479.50" width="3.00" height="20.00" rx="0.0" fill="#d0d0d0" stroke="#222" stroke-width="0.9"/><line x1="955.70" y1="457.50" x2="976.90" y2="457.50" stroke="#6e6e6e" stroke-width="1.6"/><text x="962.93" y="455.20" font-size="7.4" font-weight="normal" font-style="normal" fill="#222" stroke="#222" stroke-width="0.15" textLength="6.75" lengthAdjust="spacingAndGlyphs">55</text><path d="M808.5,589.5 L874.0,589.5 Q875.5,589.5 875.5,591.0 L875.5,601.5 Q875.5,602.5 874.5,602.5 L808.5,602.5" fill="#fff" stroke="#111" stroke-width="1.05" stroke-linejoin="round" /><line x1="808.50" y1="594.50" x2="875.50" y2="594.50" stroke="#111" stroke-width="1.05"/><path d="M816.5,589.5 L816.5,573.5 Q816.5,572.5 817.5,572.5 L842.5,572.5 Q843.5,572.5 843.5,573.5 L843.5,589.5" fill="#fff" stroke="#111" stroke-width="1.0" stroke-linejoin="round" /><path d="M843.5,589.5 L843.5,583.5 Q843.5,582.5 844.5,582.5 L845.5,582.5 Q846.5,582.5 846.5,583.5 L846.5,589.5" fill="#fff" stroke="#111" stroke-width="1.0" stroke-linejoin="round" /><path d="M809,589.5 L808.2,574.5 Q808.4,572.2 810.5,572.2 Q812.3,572.2 812.8,574.0 L816,589.5" fill="#fff" stroke="#111" stroke-width="1.05" stroke-linejoin="round" /><path d="M808.5,582.5 L800.5,582.5 Q799.5,582.5 799.5,583.5 L799.5,601.5 Q799.5,602.5 800.5,602.5 L808.5,602.5 Z" fill="#fff" stroke="#111" stroke-width="1.05" stroke-linejoin="round" /><circle cx="806.30" cy="579.90" r="1.8" fill="#fff" stroke="#111" stroke-width="0.9"/><line x1="799.50" y1="602.50" x2="875.50" y2="602.50" stroke="#111" stroke-width="1.1"/><rect x="800.50" y="602.50" width="7.50" height="2.00" rx="0.8" fill="#fff" stroke="#333" stroke-width="0.9"/><rect x="867.00" y="602.50" width="7.50" height="2.00" rx="0.8" fill="#fff" stroke="#333" stroke-width="0.9"/><text x="800.20" y="622.80" font-size="8.2" font-weight="bold" font-style="normal" fill="#000" textLength="23.27" lengthAdjust="spacingAndGlyphs">9JK109</text><text x="800.20" y="630.70" font-size="7.8" font-weight="normal" font-style="normal" fill="#111" stroke="#111" stroke-width="0.12" textLength="43.39" lengthAdjust="spacingAndGlyphs">L200 P98 H87</text><line x1="816.00" y1="559.50" x2="843.30" y2="559.50" stroke="#6e6e6e" stroke-width="1.6"/><text x="826.28" y="557.20" font-size="7.4" font-weight="normal" font-style="normal" fill="#222" stroke="#222" stroke-width="0.15" textLength="6.75" lengthAdjust="spacingAndGlyphs">70</text><line x1="845.40" y1="559.50" x2="875.50" y2="559.50" stroke="#6e6e6e" stroke-width="1.6"/><text x="857.08" y="557.20" font-size="7.4" font-weight="normal" font-style="normal" fill="#222" stroke="#222" stroke-width="0.15" textLength="6.75" lengthAdjust="spacingAndGlyphs">90</text><rect x="900.50" y="567.50" width="76.00" height="39.00" rx="0.0" fill="#fff" stroke="#222" stroke-width="1.2"/><path d="M900.5,577.5 L947.5,577.5 L947.5,567.5" fill="none" stroke="#111" stroke-width="1.05" stroke-linejoin="round" /><path d="M920.5,575.5 L943.5,575.5 L945.5,577.5 L945.5,583.5 L918.5,583.5 L918.5,577.5 Z" fill="#fff" stroke="#111" stroke-width="1.0" stroke-linejoin="round" /><line x1="910.50" y1="577.50" x2="910.50" y2="606.50" stroke="#111" stroke-width="1.05"/><path d="M910.5,579.5 L915.5,579.5 Q917.5,592.0 915.5,604.5 L910.5,604.5" fill="#fff" stroke="#111" stroke-width="1.0" stroke-linejoin="round" /><rect x="907.50" y="581.50" width="3.00" height="21.00" rx="0.0" fill="#d0d0d0" stroke="#222" stroke-width="0.9"/><line x1="946.30" y1="559.50" x2="976.90" y2="559.50" stroke="#6e6e6e" stroke-width="1.6"/><text x="958.23" y="557.20" font-size="7.4" font-weight="normal" font-style="normal" fill="#222" stroke="#222" stroke-width="0.15" textLength="6.75" lengthAdjust="spacingAndGlyphs">90</text><path d="M809.5,692.5 L809.5,675.5 Q809.5,674.5 810.5,674.5 L867,674.5 Q868,674.5 868,675.5 L868,692.5" fill="#fff" stroke="#111" stroke-width="1.05" stroke-linejoin="round" /><path d="M809.5,674.5 L813,674.5 L816,692.5" fill="none" stroke="#111" stroke-width="1.0" stroke-linejoin="round" /><line x1="837.50" y1="674.50" x2="837.50" y2="692.50" stroke="#111" stroke-width="1.05"/><path d="M808.5,692.5 L883,692.5 Q884.5,692.5 884.5,694 L884.5,705.5 Q884.5,706.5 883.5,706.5 L808.5,706.5" fill="#fff" stroke="#111" stroke-width="1.05" stroke-linejoin="round" /><line x1="808.50" y1="697.50" x2="884.50" y2="697.50" stroke="#111" stroke-width="1.05"/><circle cx="807.00" cy="682.50" r="1.8" fill="#fff" stroke="#111" stroke-width="0.9"/><path d="M808.5,684.5 L800.5,684.5 Q799.5,684.5 799.5,685.5 L799.5,705.5 Q799.5,706.5 800.5,706.5 L808.5,706.5 Z" fill="#fff" stroke="#111" stroke-width="1.05" stroke-linejoin="round" /><line x1="799.50" y1="706.50" x2="884.50" y2="706.50" stroke="#111" stroke-width="1.1"/><rect x="800.50" y="706.50" width="7.50" height="2.00" rx="0.8" fill="#fff" stroke="#333" stroke-width="0.9"/><rect x="876.00" y="706.50" width="7.50" height="2.00" rx="0.8" fill="#fff" stroke="#333" stroke-width="0.9"/><text x="800.20" y="725.00" font-size="8.2" font-weight="bold" font-style="normal" fill="#000" textLength="22.90" lengthAdjust="spacingAndGlyphs">9JK113</text><text x="800.20" y="732.90" font-size="7.8" font-weight="normal" font-style="normal" fill="#111" stroke="#111" stroke-width="0.12" textLength="43.39" lengthAdjust="spacingAndGlyphs">L225 P98 H87</text><line x1="868.40" y1="662.50" x2="885.00" y2="662.50" stroke="#6e6e6e" stroke-width="1.6"/><text x="873.33" y="660.20" font-size="7.4" font-weight="normal" font-style="normal" fill="#222" stroke="#222" stroke-width="0.15" textLength="6.75" lengthAdjust="spacingAndGlyphs">42</text><rect x="900.50" y="670.50" width="85.00" height="37.00" rx="0.0" fill="#fff" stroke="#222" stroke-width="1.2"/><path d="M900.5,678.5 L912.5,678.5" fill="none" stroke="#111" stroke-width="1.0" stroke-linejoin="round" /><path d="M969.5,670.5 L969.5,686.5 L917.5,686.5" fill="none" stroke="#111" stroke-width="1.0" stroke-linejoin="round" /><path d="M914.5,677.5 L934.5,677.5 L935.5,679 L935.5,682.5 L913.5,682.5 L913.5,679 Z" fill="#fff" stroke="#111" stroke-width="0.9" stroke-linejoin="round" /><path d="M942.5,677.5 L962.5,677.5 L963.5,679 L963.5,682.5 L941.5,682.5 L941.5,679 Z" fill="#fff" stroke="#111" stroke-width="0.9" stroke-linejoin="round" /><path d="M912.5,680.5 L917.5,686.5 L917.5,707.5 M912.5,680.5 L912.5,707.5" fill="none" stroke="#111" stroke-width="1.0" stroke-linejoin="round" /><rect x="907.50" y="686.50" width="3.00" height="17.00" rx="0.0" fill="#d0d0d0" stroke="#222" stroke-width="0.9"/><line x1="969.80" y1="662.50" x2="985.60" y2="662.50" stroke="#6e6e6e" stroke-width="1.6"/><text x="974.33" y="660.20" font-size="7.4" font-weight="normal" font-style="normal" fill="#222" stroke="#222" stroke-width="0.15" textLength="6.75" lengthAdjust="spacingAndGlyphs">42</text><path d="M1030.5,297.5 L1030.5,285.5 Q1030.5,284.5 1031.5,284.5 L1067,284.5 Q1068,284.5 1068,285.5 L1068,297.5" fill="#fff" stroke="#111" stroke-width="1.05" stroke-linejoin="round" /><line x1="1030.50" y1="289.50" x2="1068.00" y2="289.50" stroke="#111" stroke-width="1.05"/><line x1="1030.50" y1="297.50" x2="1068.00" y2="297.50" stroke="#111" stroke-width="1.1"/><rect x="1031.00" y="297.50" width="6.00" height="2.00" rx="0.8" fill="#fff" stroke="#333" stroke-width="0.9"/><rect x="1061.50" y="297.50" width="6.00" height="2.00" rx="0.8" fill="#fff" stroke="#333" stroke-width="0.9"/><rect x="1076.50" y="270.50" width="39.00" height="28.00" rx="0.8" fill="#fff" stroke="#2a2a2a" stroke-width="1.1"/><rect x="1077.50" y="271.50" width="37.00" height="26.00" rx="0.5" fill="#fff" stroke="#aaa" stroke-width="0.7"/><text x="1030.60" y="316.40" font-size="8.2" font-weight="bold" font-style="normal" fill="#000" textLength="22.90" lengthAdjust="spacingAndGlyphs">9JK110</text><text x="1030.60" y="324.30" font-size="7.8" font-weight="normal" font-style="normal" fill="#111" stroke="#111" stroke-width="0.12" textLength="43.39" lengthAdjust="spacingAndGlyphs">L100 P75 H41</text><path d="M1030.5,399.5 L1030.5,387.5 Q1030.5,386.5 1031.5,386.5 L1067,386.5 Q1068,386.5 1068,387.5 L1068,399.5" fill="#fff" stroke="#111" stroke-width="1.05" stroke-linejoin="round" /><line x1="1030.50" y1="391.50" x2="1068.00" y2="391.50" stroke="#111" stroke-width="1.05"/><line x1="1030.50" y1="399.50" x2="1068.00" y2="399.50" stroke="#111" stroke-width="1.1"/><rect x="1031.00" y="399.50" width="6.00" height="2.00" rx="0.8" fill="#fff" stroke="#333" stroke-width="0.9"/><rect x="1061.50" y="399.50" width="6.00" height="2.00" rx="0.8" fill="#fff" stroke="#333" stroke-width="0.9"/><rect x="1076.50" y="362.50" width="46.00" height="39.00" rx="0.8" fill="#fff" stroke="#2a2a2a" stroke-width="1.1"/><rect x="1077.50" y="363.50" width="44.00" height="37.00" rx="0.5" fill="#fff" stroke="#aaa" stroke-width="0.7"/><text x="1030.60" y="418.60" font-size="8.2" font-weight="bold" font-style="normal" fill="#000" textLength="22.90" lengthAdjust="spacingAndGlyphs">9JK117</text><text x="1030.60" y="426.50" font-size="7.8" font-weight="normal" font-style="normal" fill="#111" stroke="#111" stroke-width="0.12" textLength="47.17" lengthAdjust="spacingAndGlyphs">L100 P120 H41</text><path d="M1030.5,501.5 L1030.5,489.5 Q1030.5,488.5 1031.5,488.5 L1067,488.5 Q1068,488.5 1068,489.5 L1068,501.5" fill="#fff" stroke="#111" stroke-width="1.05" stroke-linejoin="round" /><line x1="1030.50" y1="493.50" x2="1068.00" y2="493.50" stroke="#111" stroke-width="1.05"/><line x1="1030.50" y1="501.50" x2="1068.00" y2="501.50" stroke="#111" stroke-width="1.1"/><rect x="1031.00" y="501.50" width="6.00" height="2.00" rx="0.8" fill="#fff" stroke="#333" stroke-width="0.9"/><rect x="1061.50" y="501.50" width="6.00" height="2.00" rx="0.8" fill="#fff" stroke="#333" stroke-width="0.9"/><rect x="1076.50" y="464.50" width="39.00" height="39.00" rx="0.8" fill="#fff" stroke="#2a2a2a" stroke-width="1.1"/><rect x="1077.50" y="465.50" width="37.00" height="37.00" rx="0.5" fill="#fff" stroke="#aaa" stroke-width="0.7"/><text x="1030.60" y="520.20" font-size="8.2" font-weight="bold" font-style="normal" fill="#000" textLength="22.53" lengthAdjust="spacingAndGlyphs">9JK111</text><text x="1030.60" y="528.10" font-size="7.8" font-weight="normal" font-style="normal" fill="#111" stroke="#111" stroke-width="0.12" textLength="47.17" lengthAdjust="spacingAndGlyphs">L100 P100 H41</text><rect x="1145.50" y="280.50" width="20.00" height="18.00" rx="1.5" fill="#fff" stroke="#222" stroke-width="1.1"/><line x1="1162.50" y1="281.50" x2="1162.50" y2="297.50" stroke="#444" stroke-width="0.8"/><text x="1145.50" y="316.40" font-size="8.2" font-weight="bold" font-style="normal" fill="#000" textLength="23.27" lengthAdjust="spacingAndGlyphs">9JK105</text><text x="1145.50" y="324.30" font-size="7.8" font-weight="normal" font-style="normal" fill="#111" stroke="#111" stroke-width="0.12" textLength="25.66" lengthAdjust="spacingAndGlyphs">L45 H45</text><text x="1145.50" y="332.20" font-size="7.8" font-weight="normal" font-style="normal" fill="#1a1a1a" stroke="#1a1a1a" stroke-width="0.08" textLength="94.15" lengthAdjust="spacingAndGlyphs">Cuscinetto in piuma con fascia</text><text x="1145.50" y="340.10" font-size="7.8" font-weight="normal" font-style="italic" fill="#1a1a1a" stroke="#1a1a1a" stroke-width="0.08" textLength="81.43" lengthAdjust="spacingAndGlyphs">Feather cushion with band</text><rect x="1146.50" y="386.50" width="15.00" height="15.00" rx="1.5" fill="#fff" stroke="#222" stroke-width="1.1"/><text x="1145.50" y="419.00" font-size="8.2" font-weight="bold" font-style="normal" fill="#000" textLength="24.37" lengthAdjust="spacingAndGlyphs">9CU103</text><text x="1145.50" y="426.90" font-size="7.8" font-weight="normal" font-style="normal" fill="#111" stroke="#111" stroke-width="0.12" textLength="25.66" lengthAdjust="spacingAndGlyphs">L40 H40</text><text x="1145.50" y="434.80" font-size="7.8" font-weight="normal" font-style="normal" fill="#1a1a1a" stroke="#1a1a1a" stroke-width="0.08" textLength="101.48" lengthAdjust="spacingAndGlyphs">Cuscinetto in piuma senza fascia</text><text x="1145.50" y="442.70" font-size="7.8" font-weight="normal" font-style="italic" fill="#1a1a1a" stroke="#1a1a1a" stroke-width="0.08" textLength="91.08" lengthAdjust="spacingAndGlyphs">Feather cushion without band</text><path d="M1149.5,502.5 L1148.3,488 Q1148.3,485.5 1151,485.5 L1153.5,485.5 Q1155.5,485.7 1156,488 L1157,501.5 Q1157,503 1155.5,503 L1151,503 Q1149.5,503 1149.5,502.5 Z" fill="#fff" stroke="#111" stroke-width="1.05" stroke-linejoin="round" /><circle cx="1147.80" cy="493.00" r="1.8" fill="#fff" stroke="#111" stroke-width="0.9"/><text x="1145.50" y="521.50" font-size="8.2" font-weight="bold" font-style="normal" fill="#000" textLength="23.27" lengthAdjust="spacingAndGlyphs">9JK401</text><text x="1145.50" y="529.40" font-size="7.8" font-weight="normal" font-style="normal" fill="#111" stroke="#111" stroke-width="0.12" textLength="25.66" lengthAdjust="spacingAndGlyphs">L70 H50</text><text x="1145.50" y="537.30" font-size="7.8" font-weight="normal" font-style="normal" fill="#1a1a1a" stroke="#1a1a1a" stroke-width="0.08" textLength="53.25" lengthAdjust="spacingAndGlyphs">Cuscino con rullo</text><text x="1145.50" y="545.20" font-size="7.8" font-weight="normal" font-style="italic" fill="#1a1a1a" stroke="#1a1a1a" stroke-width="0.08" textLength="62.51" lengthAdjust="spacingAndGlyphs">Cushion with bolster</text><rect x="1260.50" y="208.50" width="104.00" height="91.00" rx="0.0" fill="#fff" stroke="#111" stroke-width="1.1"/><line x1="1366.00" y1="208.50" x2="1366.00" y2="299.50" stroke="#999" stroke-width="0.8"/><line x1="1306.50" y1="208.50" x2="1306.50" y2="273.80" stroke="#222" stroke-width="1.0"/><line x1="1349.50" y1="208.50" x2="1349.50" y2="249.00" stroke="#222" stroke-width="1.0"/><path d="M1260.5,248.5 L1306.5,273.8 L1364.5,241.5" fill="none" stroke="#222" stroke-width="1.0" stroke-linejoin="round" /><path d="M1304,277.3 L1346.5,253.0 Q1350,252.0 1350.5,255.5 Q1350.5,257.8 1348.5,259.0 L1306.5,282.8" fill="#fff" stroke="#222" stroke-width="0.9" stroke-linejoin="round" /><ellipse cx="1304.3" cy="280.1" rx="2.4" ry="3.3" transform="rotate(-30 1304.3 280.1)" fill="#fff" stroke="#222" stroke-width="0.9"/><path d="M1297.5,272.3 L1302,275.3" fill="none" stroke="#555" stroke-width="1.2" stroke-linejoin="round" /><text x="1375.90" y="216.10" font-size="7.3" font-weight="bold" font-style="normal" fill="#000" textLength="29.97" lengthAdjust="spacingAndGlyphs">Versione A</text><text x="1407.37" y="216.10" font-size="7.3" font-weight="normal" font-style="normal" fill="#333" stroke="#333" stroke-width="0.1" textLength="26.62" lengthAdjust="spacingAndGlyphs">(standard)</text><text x="1375.90" y="223.90" font-size="7.3" font-weight="normal" font-style="normal" fill="#333" textLength="24.99" lengthAdjust="spacingAndGlyphs">in metallo</text><text x="1375.90" y="231.70" font-size="7.3" font-weight="bold" font-style="italic" fill="#000" textLength="26.83" lengthAdjust="spacingAndGlyphs">Version A</text><text x="1404.23" y="231.70" font-size="7.3" font-weight="normal" font-style="italic" fill="#333" stroke="#333" stroke-width="0.1" textLength="26.62" lengthAdjust="spacingAndGlyphs">(standard)</text><text x="1375.90" y="239.50" font-size="7.3" font-weight="normal" font-style="italic" fill="#333" textLength="20.45" lengthAdjust="spacingAndGlyphs">in metal</text><text x="1375.90" y="297.10" font-size="7.3" font-weight="normal" font-style="normal" fill="#333" textLength="18.50" lengthAdjust="spacingAndGlyphs">H 6 cm</text><line x1="1260.50" y1="304.50" x2="1481.00" y2="304.50" stroke="#8a8a8a" stroke-width="2.0"/><rect x="1260.50" y="311.50" width="104.00" height="90.00" rx="0.0" fill="#fff" stroke="#111" stroke-width="1.1"/><line x1="1366.00" y1="311.50" x2="1366.00" y2="401.50" stroke="#999" stroke-width="0.8"/><line x1="1306.50" y1="311.50" x2="1306.50" y2="376.80" stroke="#222" stroke-width="1.0"/><line x1="1349.50" y1="311.50" x2="1349.50" y2="352.00" stroke="#222" stroke-width="1.0"/><path d="M1260.5,351.5 L1306.5,376.8 L1364.5,344.5" fill="none" stroke="#222" stroke-width="1.0" stroke-linejoin="round" /><path d="M1284.5,367.8 L1306.5,378.8 L1349.5,354.5 L1349.5,357.0 L1306.5,384.3 L1284.5,372.8 Z" fill="#fff" stroke="#222" stroke-width="0.9" stroke-linejoin="round" /><path d="M1284.5,370.3 L1306.5,381.8 L1349.5,357.0 M1306.5,381.8 L1306.5,384.3 M1284.5,367.8 L1287.5,366.3 M1346.5,353.0 L1349.5,354.5" fill="none" stroke="#222" stroke-width="0.8" stroke-linejoin="round" /><text x="1375.90" y="319.40" font-size="7.3" font-weight="bold" font-style="normal" fill="#000" textLength="30.19" lengthAdjust="spacingAndGlyphs">Versione B</text><text x="1375.90" y="327.20" font-size="7.3" font-weight="normal" font-style="normal" fill="#333" textLength="24.99" lengthAdjust="spacingAndGlyphs">in metallo</text><text x="1375.90" y="335.00" font-size="7.3" font-weight="bold" font-style="italic" fill="#000" textLength="27.04" lengthAdjust="spacingAndGlyphs">Version B</text><text x="1375.90" y="342.80" font-size="7.3" font-weight="normal" font-style="italic" fill="#333" textLength="20.45" lengthAdjust="spacingAndGlyphs">in metal</text><text x="1375.90" y="399.10" font-size="7.3" font-weight="normal" font-style="normal" fill="#333" textLength="23.37" lengthAdjust="spacingAndGlyphs">H 5,5 cm</text><line x1="1260.50" y1="406.50" x2="1481.00" y2="406.50" stroke="#8a8a8a" stroke-width="2.0"/><rect x="1260.50" y="413.50" width="104.00" height="90.00" rx="0.0" fill="#fff" stroke="#111" stroke-width="1.1"/><line x1="1366.00" y1="413.50" x2="1366.00" y2="503.50" stroke="#999" stroke-width="0.8"/><line x1="1306.50" y1="413.50" x2="1306.50" y2="478.80" stroke="#222" stroke-width="1.0"/><line x1="1349.50" y1="413.50" x2="1349.50" y2="454.00" stroke="#222" stroke-width="1.0"/><path d="M1260.5,453.5 L1306.5,478.8 L1364.5,446.5" fill="none" stroke="#222" stroke-width="1.0" stroke-linejoin="round" /><path d="M1284.5,469.8 L1306.5,480.8 L1349.5,456.5 L1349.5,459.0 L1306.5,486.3 L1284.5,474.8 Z" fill="#fff" stroke="#222" stroke-width="0.9" stroke-linejoin="round" /><path d="M1284.5,472.3 L1306.5,483.8 L1349.5,459.0 M1306.5,483.8 L1306.5,486.3 M1284.5,469.8 L1287.5,468.3 M1346.5,455.0 L1349.5,456.5" fill="none" stroke="#222" stroke-width="0.8" stroke-linejoin="round" /><text x="1375.90" y="421.20" font-size="7.3" font-weight="bold" font-style="normal" fill="#000" textLength="30.19" lengthAdjust="spacingAndGlyphs">Versione C</text><text x="1375.90" y="429.00" font-size="7.3" font-weight="normal" font-style="normal" fill="#333" textLength="20.46" lengthAdjust="spacingAndGlyphs">in legno</text><text x="1375.90" y="436.80" font-size="7.3" font-weight="bold" font-style="italic" fill="#000" textLength="27.04" lengthAdjust="spacingAndGlyphs">Version C</text><text x="1375.90" y="444.60" font-size="7.3" font-weight="normal" font-style="italic" fill="#333" textLength="20.13" lengthAdjust="spacingAndGlyphs">in wood</text><text x="1375.90" y="501.60" font-size="7.3" font-weight="normal" font-style="normal" fill="#333" textLength="23.37" lengthAdjust="spacingAndGlyphs">H 5,5 cm</text><line x1="1260.50" y1="509.50" x2="1481.00" y2="509.50" stroke="#8a8a8a" stroke-width="2.0"/><rect x="1260.50" y="515.50" width="104.00" height="91.00" rx="0.0" fill="#fff" stroke="#111" stroke-width="1.1"/><line x1="1366.00" y1="515.50" x2="1366.00" y2="606.50" stroke="#999" stroke-width="0.8"/><line x1="1306.50" y1="515.50" x2="1306.50" y2="580.80" stroke="#222" stroke-width="1.0"/><line x1="1349.50" y1="515.50" x2="1349.50" y2="556.00" stroke="#222" stroke-width="1.0"/><path d="M1260.5,555.5 L1306.5,580.8 L1364.5,548.5" fill="none" stroke="#222" stroke-width="1.0" stroke-linejoin="round" /><path d="M1304,584.3 L1346.5,560.0 Q1350,559.0 1350.5,562.5 Q1350.5,564.8 1348.5,566.0 L1306.5,589.8" fill="#fff" stroke="#222" stroke-width="0.9" stroke-linejoin="round" /><ellipse cx="1304.3" cy="587.0999999999999" rx="2.4" ry="3.3" transform="rotate(-30 1304.3 587.0999999999999)" fill="#fff" stroke="#222" stroke-width="0.9"/><path d="M1297.5,579.3 L1302,582.3" fill="none" stroke="#555" stroke-width="1.2" stroke-linejoin="round" /><text x="1375.90" y="523.50" font-size="7.3" font-weight="bold" font-style="normal" fill="#000" textLength="30.19" lengthAdjust="spacingAndGlyphs">Versione D</text><text x="1375.90" y="531.30" font-size="7.3" font-weight="normal" font-style="normal" fill="#333" textLength="24.99" lengthAdjust="spacingAndGlyphs">in metallo</text><text x="1375.90" y="539.10" font-size="7.3" font-weight="bold" font-style="italic" fill="#000" textLength="27.04" lengthAdjust="spacingAndGlyphs">Version D</text><text x="1375.90" y="546.90" font-size="7.3" font-weight="normal" font-style="italic" fill="#333" textLength="20.45" lengthAdjust="spacingAndGlyphs">in metal</text><text x="1375.90" y="604.10" font-size="7.3" font-weight="normal" font-style="normal" fill="#333" textLength="23.37" lengthAdjust="spacingAndGlyphs">H 6,5 cm</text><line x1="1260.50" y1="611.50" x2="1481.00" y2="611.50" stroke="#8a8a8a" stroke-width="2.0"/><path d="M1444.6,961 L1444.6,899 Q1444.6,895.6 1448,895.6 L1495,895.6 L1495,961 Z" fill="#fff"/><rect x="1450" y="890.8" width="18" height="8" rx="3" fill="#fff"/><rect x="1459.8" y="905.5" width="36" height="56" fill="#58585c"/><rect x="1464" y="940.5" width="32" height="21" fill="#48714d"/><rect x="1472.5" y="918.1" width="15.2" height="15.5" rx="1.6" fill="#2b3340" stroke="#1b2028" stroke-width="0.6"/><path d="M1473,926.2 Q1475,922.2 1478,921.8 L1487.2,921.8 L1487.2,931 L1478,931 Q1475,930.3 1473,926.2 Z" fill="#76b900"/><ellipse cx="1479.3" cy="926.3" rx="3.6" ry="2.7" fill="none" stroke="#3f6e00" stroke-width="0.9"/><ellipse cx="1478.6" cy="926.1" rx="1.4" ry="1.0" fill="none" stroke="#2f5a00" stroke-width="0.8"/><path d="M1481.5,928.6 Q1483.5,928.3 1484.6,927.2" fill="none" stroke="#2f5a00" stroke-width="0.9"/></g>
</svg>
</body></html>
